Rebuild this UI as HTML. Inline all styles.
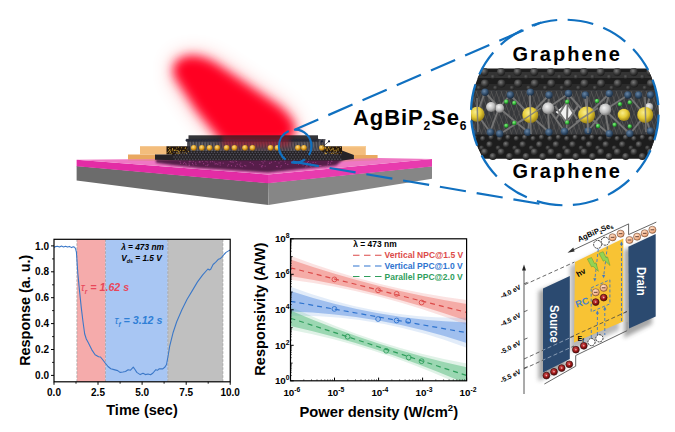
<!DOCTYPE html>
<html><head><meta charset="utf-8"><title>Graphene / AgBiP2Se6 / Graphene photodetector</title>
<style>
html,body{margin:0;padding:0;background:#fff;overflow:hidden}
svg{display:block}
text{font-family:"Liberation Sans",sans-serif;font-weight:bold;fill:#000}
</style></head><body>
<svg width="675" height="432" viewBox="0 0 675 432">
<defs>
<filter id="blur5" x="-30%" y="-30%" width="160%" height="160%"><feGaussianBlur stdDeviation="5.4"/></filter>
<filter id="blur10" x="-40%" y="-40%" width="180%" height="180%"><feGaussianBlur stdDeviation="11"/></filter>
<filter id="blur2" x="-30%" y="-30%" width="160%" height="160%"><feGaussianBlur stdDeviation="2"/></filter>
<filter id="blur1" x="-30%" y="-30%" width="160%" height="160%"><feGaussianBlur stdDeviation="0.8"/></filter>
<filter id="shadow" x="-40%" y="-20%" width="180%" height="150%"><feGaussianBlur stdDeviation="2.2"/></filter>
<radialGradient id="gC" cx="40%" cy="35%" r="65%"><stop offset="0" stop-color="#7a7a7a"/><stop offset="0.6" stop-color="#3a3a3a"/><stop offset="1" stop-color="#1a1a1a"/></radialGradient>
<radialGradient id="gY" cx="40%" cy="35%" r="65%"><stop offset="0" stop-color="#f8ec8c"/><stop offset="0.55" stop-color="#e6cc36"/><stop offset="1" stop-color="#9c8214"/></radialGradient>
<radialGradient id="gS" cx="40%" cy="35%" r="65%"><stop offset="0" stop-color="#f4f4f4"/><stop offset="0.6" stop-color="#bdbdbd"/><stop offset="1" stop-color="#777"/></radialGradient>
<radialGradient id="gB" cx="40%" cy="35%" r="65%"><stop offset="0" stop-color="#6a88a8"/><stop offset="0.6" stop-color="#34506e"/><stop offset="1" stop-color="#1a2c40"/></radialGradient>
<radialGradient id="gG" cx="40%" cy="35%" r="65%"><stop offset="0" stop-color="#8df08a"/><stop offset="0.6" stop-color="#35b83a"/><stop offset="1" stop-color="#1a7020"/></radialGradient>
<radialGradient id="gAu" cx="40%" cy="35%" r="65%"><stop offset="0" stop-color="#ffe08a"/><stop offset="0.6" stop-color="#e0a020"/><stop offset="1" stop-color="#8a5a08"/></radialGradient>
<radialGradient id="gH" cx="40%" cy="35%" r="65%"><stop offset="0" stop-color="#d05050"/><stop offset="0.6" stop-color="#a01818"/><stop offset="1" stop-color="#600808"/></radialGradient>
<radialGradient id="gE" cx="40%" cy="35%" r="65%"><stop offset="0" stop-color="#ffe0c8"/><stop offset="0.7" stop-color="#f4b48c"/><stop offset="1" stop-color="#d08858"/></radialGradient>
<clipPath id="circ"><ellipse cx="564.8" cy="112.5" rx="93.8" ry="92.8"/></clipPath>
<clipPath id="p1"><rect x="54" y="239" width="176.2" height="143"/></clipPath>
<clipPath id="p2"><rect x="290.5" y="239" width="176" height="142"/></clipPath>
</defs>
<rect width="675" height="432" fill="#fff"/>

<g id="device">
<path d="M192.5,56 C201,57 208.5,59.5 214.8,63.2 L278.6,106.3 C286,112.3 293,120 295,127.5 C296,134 290,140 283,143 L223.5,143 L197,110.6 L176,78.6 C170,67.5 175,57 192.5,56 Z" fill="#ff0020" filter="url(#blur10)" opacity="0.4"/>
<path d="M192.5,56 C201,57 208.5,59.5 214.8,63.2 L278.6,106.3 C286,112.3 293,120 295,127.5 C296,134 290,140 283,143 L223.5,143 L197,110.6 L176,78.6 C170,67.5 175,57 192.5,56 Z" fill="#ff0020" filter="url(#blur5)"/>
<polygon points="76.6,166 268,183 268.5,205 76.6,180.4" fill="#6c6c6c"/>
<polygon points="268,183 432,166.3 432,178.7 268.5,205" fill="#868686"/>
<polygon points="76.6,159.7 268,174.5 268,183.2 76.6,166.3" fill="#e32ca5"/>
<polygon points="268,174.5 432,159 432,166.5 268,183.2" fill="#e83bae"/>
<polygon points="76.6,159.7 128,159.3 170,159 342,158 378,158 432,159 268,174.5" fill="#ef78c4"/>
<polygon points="128,154.5 156,154.5 156,159.6 128,159.4" fill="#e9a860"/>
<polygon points="140,146.2 167,146.2 167,154.6 140,154.6" fill="#f3bd7c"/>
<polygon points="128,159.4 156,159.6 172,160 172,161.5 128,160.6" fill="#e77fa0"/>
<polygon points="342,146 365.8,146 365.8,155 342,155" fill="#f3bd7c"/>
<polygon points="353.9,154.9 377.6,154.9 377.6,158.6 353.9,159" fill="#e9a860"/>
<polygon points="342,146 365.8,146 365.8,147.2 342,147.2" fill="#f8cf98"/>
<polygon points="340,159 377.6,158.6 377.6,160.2 340,161.8" fill="#e77fa0"/>
<polygon points="156,159.3 345,158 336,165.5 268,172.5 200,168 172,165 156,162.8" fill="#4c123f" opacity="0.92" filter="url(#blur1)"/>
<circle cx="230.2" cy="161.5" r="0.6" fill="#b04a98" opacity="0.7"/>
<circle cx="280.9" cy="161.0" r="0.6" fill="#b04a98" opacity="0.7"/>
<circle cx="263.1" cy="162.9" r="0.6" fill="#b04a98" opacity="0.7"/>
<circle cx="189.0" cy="163.8" r="0.6" fill="#b04a98" opacity="0.7"/>
<circle cx="185.8" cy="163.3" r="0.6" fill="#b04a98" opacity="0.7"/>
<circle cx="190.8" cy="161.1" r="0.6" fill="#b04a98" opacity="0.7"/>
<circle cx="245.8" cy="165.9" r="0.6" fill="#b04a98" opacity="0.7"/>
<circle cx="199.2" cy="162.0" r="0.6" fill="#b04a98" opacity="0.7"/>
<circle cx="277.3" cy="166.7" r="0.6" fill="#b04a98" opacity="0.7"/>
<circle cx="269.5" cy="163.1" r="0.6" fill="#b04a98" opacity="0.7"/>
<circle cx="331.3" cy="160.8" r="0.6" fill="#b04a98" opacity="0.7"/>
<circle cx="313.1" cy="162.4" r="0.6" fill="#b04a98" opacity="0.7"/>
<circle cx="202.4" cy="161.3" r="0.6" fill="#b04a98" opacity="0.7"/>
<circle cx="227.8" cy="165.8" r="0.6" fill="#b04a98" opacity="0.7"/>
<circle cx="208.0" cy="164.3" r="0.6" fill="#b04a98" opacity="0.7"/>
<circle cx="279.0" cy="162.9" r="0.6" fill="#b04a98" opacity="0.7"/>
<circle cx="264.9" cy="160.9" r="0.6" fill="#b04a98" opacity="0.7"/>
<circle cx="189.2" cy="161.8" r="0.6" fill="#b04a98" opacity="0.7"/>
<circle cx="285.5" cy="163.3" r="0.6" fill="#b04a98" opacity="0.7"/>
<circle cx="228.7" cy="164.3" r="0.6" fill="#b04a98" opacity="0.7"/>
<circle cx="250.2" cy="162.4" r="0.6" fill="#b04a98" opacity="0.7"/>
<circle cx="303.1" cy="165.0" r="0.6" fill="#b04a98" opacity="0.7"/>
<circle cx="217.8" cy="164.2" r="0.6" fill="#b04a98" opacity="0.7"/>
<circle cx="261.4" cy="166.2" r="0.6" fill="#b04a98" opacity="0.7"/>
<circle cx="293.1" cy="162.4" r="0.6" fill="#b04a98" opacity="0.7"/>
<circle cx="331.9" cy="161.3" r="0.6" fill="#b04a98" opacity="0.7"/>
<circle cx="244.8" cy="165.4" r="0.6" fill="#b04a98" opacity="0.7"/>
<circle cx="203.6" cy="163.7" r="0.6" fill="#b04a98" opacity="0.7"/>
<circle cx="186.1" cy="164.8" r="0.6" fill="#b04a98" opacity="0.7"/>
<circle cx="298.5" cy="164.2" r="0.6" fill="#b04a98" opacity="0.7"/>
<circle cx="315.7" cy="162.5" r="0.6" fill="#b04a98" opacity="0.7"/>
<circle cx="287.8" cy="164.4" r="0.6" fill="#b04a98" opacity="0.7"/>
<circle cx="269.9" cy="163.5" r="0.6" fill="#b04a98" opacity="0.7"/>
<circle cx="310.2" cy="166.6" r="0.6" fill="#b04a98" opacity="0.7"/>
<circle cx="253.5" cy="164.8" r="0.6" fill="#b04a98" opacity="0.7"/>
<circle cx="189.4" cy="165.1" r="0.6" fill="#b04a98" opacity="0.7"/>
<circle cx="280.3" cy="167.0" r="0.6" fill="#b04a98" opacity="0.7"/>
<circle cx="307.4" cy="162.3" r="0.6" fill="#b04a98" opacity="0.7"/>
<circle cx="239.8" cy="164.8" r="0.6" fill="#b04a98" opacity="0.7"/>
<circle cx="183.5" cy="163.5" r="0.6" fill="#b04a98" opacity="0.7"/>
<circle cx="206.0" cy="161.3" r="0.6" fill="#b04a98" opacity="0.7"/>
<circle cx="189.1" cy="165.5" r="0.6" fill="#b04a98" opacity="0.7"/>
<circle cx="200.0" cy="162.1" r="0.6" fill="#b04a98" opacity="0.7"/>
<circle cx="240.6" cy="166.2" r="0.6" fill="#b04a98" opacity="0.7"/>
<circle cx="192.5" cy="163.4" r="0.6" fill="#b04a98" opacity="0.7"/>
<circle cx="265.2" cy="166.2" r="0.6" fill="#b04a98" opacity="0.7"/>
<circle cx="307.0" cy="166.1" r="0.6" fill="#b04a98" opacity="0.7"/>
<circle cx="223.2" cy="163.2" r="0.6" fill="#b04a98" opacity="0.7"/>
<circle cx="235.6" cy="166.2" r="0.6" fill="#b04a98" opacity="0.7"/>
<circle cx="328.4" cy="161.5" r="0.6" fill="#b04a98" opacity="0.7"/>
<circle cx="207.3" cy="162.0" r="0.6" fill="#b04a98" opacity="0.7"/>
<circle cx="216.2" cy="163.7" r="0.6" fill="#b04a98" opacity="0.7"/>
<circle cx="271.3" cy="162.2" r="0.6" fill="#b04a98" opacity="0.7"/>
<circle cx="180.6" cy="163.2" r="0.6" fill="#b04a98" opacity="0.7"/>
<circle cx="237.2" cy="164.2" r="0.6" fill="#b04a98" opacity="0.7"/>
<circle cx="327.7" cy="165.0" r="0.6" fill="#b04a98" opacity="0.7"/>
<circle cx="259.9" cy="164.5" r="0.6" fill="#b04a98" opacity="0.7"/>
<circle cx="284.8" cy="160.9" r="0.6" fill="#b04a98" opacity="0.7"/>
<circle cx="319.4" cy="165.6" r="0.6" fill="#b04a98" opacity="0.7"/>
<circle cx="315.5" cy="165.7" r="0.6" fill="#b04a98" opacity="0.7"/>
<circle cx="240.8" cy="163.1" r="0.6" fill="#b04a98" opacity="0.7"/>
<circle cx="196.0" cy="164.6" r="0.6" fill="#b04a98" opacity="0.7"/>
<circle cx="189.6" cy="160.9" r="0.6" fill="#b04a98" opacity="0.7"/>
<circle cx="212.4" cy="161.6" r="0.6" fill="#b04a98" opacity="0.7"/>
<circle cx="232.7" cy="160.8" r="0.6" fill="#b04a98" opacity="0.7"/>
<circle cx="180.0" cy="161.5" r="0.6" fill="#b04a98" opacity="0.7"/>
<circle cx="195.7" cy="162.9" r="0.6" fill="#b04a98" opacity="0.7"/>
<circle cx="184.0" cy="166.2" r="0.6" fill="#b04a98" opacity="0.7"/>
<circle cx="275.2" cy="161.5" r="0.6" fill="#b04a98" opacity="0.7"/>
<circle cx="219.1" cy="162.8" r="0.6" fill="#b04a98" opacity="0.7"/>
<circle cx="236.4" cy="161.3" r="0.6" fill="#b04a98" opacity="0.7"/>
<circle cx="311.6" cy="167.0" r="0.6" fill="#b04a98" opacity="0.7"/>
<circle cx="252.2" cy="163.6" r="0.6" fill="#b04a98" opacity="0.7"/>
<circle cx="193.3" cy="161.2" r="0.6" fill="#b04a98" opacity="0.7"/>
<circle cx="233.1" cy="162.2" r="0.6" fill="#b04a98" opacity="0.7"/>
<circle cx="308.5" cy="161.5" r="0.6" fill="#b04a98" opacity="0.7"/>
<circle cx="183.6" cy="166.7" r="0.6" fill="#b04a98" opacity="0.7"/>
<circle cx="261.9" cy="161.5" r="0.6" fill="#b04a98" opacity="0.7"/>
<circle cx="264.2" cy="160.7" r="0.6" fill="#b04a98" opacity="0.7"/>
<circle cx="261.9" cy="166.9" r="0.6" fill="#b04a98" opacity="0.7"/>
<circle cx="313.8" cy="165.0" r="0.6" fill="#b04a98" opacity="0.7"/>
<circle cx="220.5" cy="162.9" r="0.6" fill="#b04a98" opacity="0.7"/>
<circle cx="205.9" cy="165.5" r="0.6" fill="#b04a98" opacity="0.7"/>
<circle cx="262.6" cy="165.6" r="0.6" fill="#b04a98" opacity="0.7"/>
<circle cx="231.1" cy="161.9" r="0.6" fill="#b04a98" opacity="0.7"/>
<circle cx="305.8" cy="166.9" r="0.6" fill="#b04a98" opacity="0.7"/>
<circle cx="312.2" cy="165.7" r="0.6" fill="#b04a98" opacity="0.7"/>
<circle cx="306.8" cy="165.3" r="0.6" fill="#b04a98" opacity="0.7"/>
<circle cx="215.1" cy="163.9" r="0.6" fill="#b04a98" opacity="0.7"/>
<circle cx="235.1" cy="160.7" r="0.6" fill="#b04a98" opacity="0.7"/>
<circle cx="184.3" cy="162.3" r="0.6" fill="#b04a98" opacity="0.7"/>
<circle cx="220.2" cy="165.0" r="0.6" fill="#b04a98" opacity="0.7"/>
<circle cx="328.3" cy="163.4" r="0.6" fill="#b04a98" opacity="0.7"/>
<circle cx="325.2" cy="166.9" r="0.6" fill="#b04a98" opacity="0.7"/>
<circle cx="328.0" cy="162.9" r="0.6" fill="#b04a98" opacity="0.7"/>
<circle cx="214.2" cy="162.0" r="0.6" fill="#b04a98" opacity="0.7"/>
<circle cx="210.5" cy="161.8" r="0.6" fill="#b04a98" opacity="0.7"/>
<circle cx="276.7" cy="166.4" r="0.6" fill="#b04a98" opacity="0.7"/>
<circle cx="310.3" cy="163.6" r="0.6" fill="#b04a98" opacity="0.7"/>
<circle cx="281.2" cy="165.7" r="0.6" fill="#b04a98" opacity="0.7"/>
<circle cx="193.1" cy="164.8" r="0.6" fill="#b04a98" opacity="0.7"/>
<circle cx="321.0" cy="165.6" r="0.6" fill="#b04a98" opacity="0.7"/>
<circle cx="296.3" cy="163.6" r="0.6" fill="#b04a98" opacity="0.7"/>
<circle cx="207.7" cy="165.6" r="0.6" fill="#b04a98" opacity="0.7"/>
<circle cx="231.5" cy="165.7" r="0.6" fill="#b04a98" opacity="0.7"/>
<circle cx="330.6" cy="163.1" r="0.6" fill="#b04a98" opacity="0.7"/>
<circle cx="242.2" cy="166.7" r="0.6" fill="#b04a98" opacity="0.7"/>
<circle cx="292.3" cy="161.6" r="0.6" fill="#b04a98" opacity="0.7"/>
<circle cx="199.7" cy="161.5" r="0.6" fill="#b04a98" opacity="0.7"/>
<circle cx="320.3" cy="165.7" r="0.6" fill="#b04a98" opacity="0.7"/>
<polygon points="155,154.6 172,154.6 172,150.5 342,150.5 353.9,154.9 353.9,159 342,160.4 190,160.6 155,159.8" fill="#262327"/>
<polygon points="166.5,146.2 190,146.2 190,152 172,154.6 166.5,154.6" fill="#231509"/>
<polygon points="322,146.2 342,146.2 342,155 322,152" fill="#231509"/>
<circle cx="170.2" cy="152.3" r="0.5" fill="#d8a838"/>
<circle cx="188.6" cy="151.2" r="0.5" fill="#d8a838"/>
<circle cx="174.7" cy="150.5" r="0.5" fill="#d8a838"/>
<circle cx="169.9" cy="146.9" r="0.5" fill="#d8a838"/>
<circle cx="188.4" cy="151.2" r="0.5" fill="#d8a838"/>
<circle cx="178.6" cy="153.1" r="0.5" fill="#d8a838"/>
<circle cx="176.5" cy="152.6" r="0.5" fill="#d8a838"/>
<circle cx="185.2" cy="148.2" r="0.5" fill="#d8a838"/>
<circle cx="172.5" cy="148.8" r="0.5" fill="#d8a838"/>
<circle cx="172.3" cy="150.7" r="0.5" fill="#d8a838"/>
<circle cx="172.7" cy="149.6" r="0.5" fill="#d8a838"/>
<circle cx="169.9" cy="152.9" r="0.5" fill="#d8a838"/>
<circle cx="174.8" cy="149.9" r="0.5" fill="#d8a838"/>
<circle cx="179.8" cy="152.9" r="0.5" fill="#d8a838"/>
<circle cx="176.3" cy="152.9" r="0.5" fill="#d8a838"/>
<circle cx="178.0" cy="150.4" r="0.5" fill="#d8a838"/>
<circle cx="178.5" cy="146.9" r="0.5" fill="#d8a838"/>
<circle cx="176.7" cy="148.0" r="0.5" fill="#d8a838"/>
<circle cx="167.1" cy="152.2" r="0.5" fill="#d8a838"/>
<circle cx="170.8" cy="150.0" r="0.5" fill="#d8a838"/>
<circle cx="183.0" cy="150.5" r="0.5" fill="#d8a838"/>
<circle cx="174.2" cy="150.3" r="0.5" fill="#d8a838"/>
<circle cx="179.2" cy="152.1" r="0.5" fill="#d8a838"/>
<circle cx="169.3" cy="150.6" r="0.5" fill="#d8a838"/>
<circle cx="172.5" cy="148.7" r="0.5" fill="#d8a838"/>
<circle cx="184.0" cy="150.2" r="0.5" fill="#d8a838"/>
<circle cx="179.4" cy="151.9" r="0.5" fill="#d8a838"/>
<circle cx="187.1" cy="149.8" r="0.5" fill="#d8a838"/>
<circle cx="180.5" cy="150.2" r="0.5" fill="#d8a838"/>
<circle cx="178.3" cy="151.4" r="0.5" fill="#d8a838"/>
<circle cx="177.0" cy="150.4" r="0.5" fill="#d8a838"/>
<circle cx="177.5" cy="153.1" r="0.5" fill="#d8a838"/>
<circle cx="182.4" cy="152.7" r="0.5" fill="#d8a838"/>
<circle cx="187.7" cy="148.5" r="0.5" fill="#d8a838"/>
<circle cx="179.3" cy="153.1" r="0.5" fill="#d8a838"/>
<circle cx="185.5" cy="147.7" r="0.5" fill="#d8a838"/>
<circle cx="169.7" cy="149.8" r="0.5" fill="#d8a838"/>
<circle cx="168.6" cy="148.4" r="0.5" fill="#d8a838"/>
<circle cx="168.6" cy="151.3" r="0.5" fill="#d8a838"/>
<circle cx="184.2" cy="152.8" r="0.5" fill="#d8a838"/>
<circle cx="170.4" cy="151.6" r="0.5" fill="#d8a838"/>
<circle cx="181.5" cy="147.8" r="0.5" fill="#d8a838"/>
<circle cx="186.4" cy="153.3" r="0.5" fill="#d8a838"/>
<circle cx="171.8" cy="153.2" r="0.5" fill="#d8a838"/>
<circle cx="175.8" cy="150.1" r="0.5" fill="#d8a838"/>
<circle cx="341.3" cy="152.8" r="0.5" fill="#d8a838"/>
<circle cx="326.8" cy="149.9" r="0.5" fill="#d8a838"/>
<circle cx="333.0" cy="149.2" r="0.5" fill="#d8a838"/>
<circle cx="327.4" cy="149.1" r="0.5" fill="#d8a838"/>
<circle cx="336.6" cy="146.9" r="0.5" fill="#d8a838"/>
<circle cx="333.7" cy="150.0" r="0.5" fill="#d8a838"/>
<circle cx="324.3" cy="149.2" r="0.5" fill="#d8a838"/>
<circle cx="334.9" cy="150.5" r="0.5" fill="#d8a838"/>
<circle cx="325.1" cy="153.9" r="0.5" fill="#d8a838"/>
<circle cx="337.8" cy="153.8" r="0.5" fill="#d8a838"/>
<circle cx="325.8" cy="148.7" r="0.5" fill="#d8a838"/>
<circle cx="324.7" cy="152.4" r="0.5" fill="#d8a838"/>
<circle cx="328.7" cy="147.7" r="0.5" fill="#d8a838"/>
<circle cx="331.4" cy="153.4" r="0.5" fill="#d8a838"/>
<circle cx="338.3" cy="148.7" r="0.5" fill="#d8a838"/>
<circle cx="326.6" cy="153.4" r="0.5" fill="#d8a838"/>
<circle cx="334.0" cy="151.8" r="0.5" fill="#d8a838"/>
<circle cx="325.6" cy="147.2" r="0.5" fill="#d8a838"/>
<circle cx="336.0" cy="149.9" r="0.5" fill="#d8a838"/>
<circle cx="325.3" cy="153.6" r="0.5" fill="#d8a838"/>
<circle cx="335.1" cy="152.6" r="0.5" fill="#d8a838"/>
<circle cx="325.5" cy="153.0" r="0.5" fill="#d8a838"/>
<circle cx="325.2" cy="153.0" r="0.5" fill="#d8a838"/>
<circle cx="331.9" cy="149.2" r="0.5" fill="#d8a838"/>
<circle cx="333.7" cy="153.5" r="0.5" fill="#d8a838"/>
<circle cx="328.7" cy="147.7" r="0.5" fill="#d8a838"/>
<circle cx="333.2" cy="148.5" r="0.5" fill="#d8a838"/>
<circle cx="325.9" cy="148.0" r="0.5" fill="#d8a838"/>
<circle cx="324.9" cy="148.3" r="0.5" fill="#d8a838"/>
<circle cx="329.5" cy="149.0" r="0.5" fill="#d8a838"/>
<circle cx="337.3" cy="148.9" r="0.5" fill="#d8a838"/>
<circle cx="332.8" cy="148.1" r="0.5" fill="#d8a838"/>
<circle cx="330.1" cy="146.9" r="0.5" fill="#d8a838"/>
<circle cx="328.4" cy="146.9" r="0.5" fill="#d8a838"/>
<circle cx="336.8" cy="150.8" r="0.5" fill="#d8a838"/>
<circle cx="327.3" cy="150.2" r="0.5" fill="#d8a838"/>
<circle cx="340.4" cy="147.6" r="0.5" fill="#d8a838"/>
<circle cx="338.3" cy="149.9" r="0.5" fill="#d8a838"/>
<circle cx="332.7" cy="152.8" r="0.5" fill="#d8a838"/>
<circle cx="330.9" cy="150.4" r="0.5" fill="#d8a838"/>
<circle cx="336.0" cy="153.9" r="0.5" fill="#d8a838"/>
<circle cx="330.0" cy="152.8" r="0.5" fill="#d8a838"/>
<circle cx="336.4" cy="151.4" r="0.5" fill="#d8a838"/>
<circle cx="331.1" cy="149.3" r="0.5" fill="#d8a838"/>
<circle cx="325.0" cy="147.7" r="0.5" fill="#d8a838"/>
<circle cx="174.0" cy="152.2" r="0.8" fill="#55535e"/>
<circle cx="176.9" cy="152.2" r="0.8" fill="#55535e"/>
<circle cx="179.8" cy="152.2" r="0.8" fill="#55535e"/>
<circle cx="182.7" cy="152.2" r="0.8" fill="#55535e"/>
<circle cx="185.6" cy="152.2" r="0.8" fill="#55535e"/>
<circle cx="188.5" cy="152.2" r="0.8" fill="#55535e"/>
<circle cx="191.4" cy="152.2" r="0.8" fill="#55535e"/>
<circle cx="194.3" cy="152.2" r="0.8" fill="#55535e"/>
<circle cx="197.2" cy="152.2" r="0.8" fill="#55535e"/>
<circle cx="200.1" cy="152.2" r="0.8" fill="#55535e"/>
<circle cx="203.0" cy="152.2" r="0.8" fill="#55535e"/>
<circle cx="205.9" cy="152.2" r="0.8" fill="#55535e"/>
<circle cx="208.8" cy="152.2" r="0.8" fill="#55535e"/>
<circle cx="211.7" cy="152.2" r="0.8" fill="#55535e"/>
<circle cx="214.6" cy="152.2" r="0.8" fill="#55535e"/>
<circle cx="217.5" cy="152.2" r="0.8" fill="#55535e"/>
<circle cx="220.4" cy="152.2" r="0.8" fill="#55535e"/>
<circle cx="223.3" cy="152.2" r="0.8" fill="#55535e"/>
<circle cx="226.2" cy="152.2" r="0.8" fill="#55535e"/>
<circle cx="229.1" cy="152.2" r="0.8" fill="#55535e"/>
<circle cx="232.0" cy="152.2" r="0.8" fill="#55535e"/>
<circle cx="234.9" cy="152.2" r="0.8" fill="#55535e"/>
<circle cx="237.8" cy="152.2" r="0.8" fill="#55535e"/>
<circle cx="240.7" cy="152.2" r="0.8" fill="#55535e"/>
<circle cx="243.6" cy="152.2" r="0.8" fill="#55535e"/>
<circle cx="246.5" cy="152.2" r="0.8" fill="#55535e"/>
<circle cx="249.4" cy="152.2" r="0.8" fill="#55535e"/>
<circle cx="252.3" cy="152.2" r="0.8" fill="#55535e"/>
<circle cx="255.2" cy="152.2" r="0.8" fill="#55535e"/>
<circle cx="258.1" cy="152.2" r="0.8" fill="#55535e"/>
<circle cx="261.0" cy="152.2" r="0.8" fill="#55535e"/>
<circle cx="263.9" cy="152.2" r="0.8" fill="#55535e"/>
<circle cx="266.8" cy="152.2" r="0.8" fill="#55535e"/>
<circle cx="269.7" cy="152.2" r="0.8" fill="#55535e"/>
<circle cx="272.6" cy="152.2" r="0.8" fill="#55535e"/>
<circle cx="275.5" cy="152.2" r="0.8" fill="#55535e"/>
<circle cx="278.4" cy="152.2" r="0.8" fill="#55535e"/>
<circle cx="281.3" cy="152.2" r="0.8" fill="#55535e"/>
<circle cx="284.2" cy="152.2" r="0.8" fill="#55535e"/>
<circle cx="287.1" cy="152.2" r="0.8" fill="#55535e"/>
<circle cx="290.0" cy="152.2" r="0.8" fill="#55535e"/>
<circle cx="292.9" cy="152.2" r="0.8" fill="#55535e"/>
<circle cx="295.8" cy="152.2" r="0.8" fill="#55535e"/>
<circle cx="298.7" cy="152.2" r="0.8" fill="#55535e"/>
<circle cx="301.6" cy="152.2" r="0.8" fill="#55535e"/>
<circle cx="304.5" cy="152.2" r="0.8" fill="#55535e"/>
<circle cx="307.4" cy="152.2" r="0.8" fill="#55535e"/>
<circle cx="310.3" cy="152.2" r="0.8" fill="#55535e"/>
<circle cx="313.2" cy="152.2" r="0.8" fill="#55535e"/>
<circle cx="316.1" cy="152.2" r="0.8" fill="#55535e"/>
<circle cx="319.0" cy="152.2" r="0.8" fill="#55535e"/>
<circle cx="321.9" cy="152.2" r="0.8" fill="#55535e"/>
<circle cx="324.8" cy="152.2" r="0.8" fill="#55535e"/>
<circle cx="327.7" cy="152.2" r="0.8" fill="#55535e"/>
<circle cx="330.6" cy="152.2" r="0.8" fill="#55535e"/>
<circle cx="333.5" cy="152.2" r="0.8" fill="#55535e"/>
<circle cx="336.4" cy="152.2" r="0.8" fill="#55535e"/>
<circle cx="339.3" cy="152.2" r="0.8" fill="#55535e"/>
<circle cx="175.4" cy="154.6" r="0.8" fill="#55535e"/>
<circle cx="178.3" cy="154.6" r="0.8" fill="#55535e"/>
<circle cx="181.2" cy="154.6" r="0.8" fill="#55535e"/>
<circle cx="184.1" cy="154.6" r="0.8" fill="#55535e"/>
<circle cx="187.0" cy="154.6" r="0.8" fill="#55535e"/>
<circle cx="189.9" cy="154.6" r="0.8" fill="#55535e"/>
<circle cx="192.8" cy="154.6" r="0.8" fill="#55535e"/>
<circle cx="195.7" cy="154.6" r="0.8" fill="#55535e"/>
<circle cx="198.6" cy="154.6" r="0.8" fill="#55535e"/>
<circle cx="201.5" cy="154.6" r="0.8" fill="#55535e"/>
<circle cx="204.4" cy="154.6" r="0.8" fill="#55535e"/>
<circle cx="207.3" cy="154.6" r="0.8" fill="#55535e"/>
<circle cx="210.2" cy="154.6" r="0.8" fill="#55535e"/>
<circle cx="213.1" cy="154.6" r="0.8" fill="#55535e"/>
<circle cx="216.0" cy="154.6" r="0.8" fill="#55535e"/>
<circle cx="218.9" cy="154.6" r="0.8" fill="#55535e"/>
<circle cx="221.8" cy="154.6" r="0.8" fill="#55535e"/>
<circle cx="224.7" cy="154.6" r="0.8" fill="#55535e"/>
<circle cx="227.6" cy="154.6" r="0.8" fill="#55535e"/>
<circle cx="230.5" cy="154.6" r="0.8" fill="#55535e"/>
<circle cx="233.4" cy="154.6" r="0.8" fill="#55535e"/>
<circle cx="236.3" cy="154.6" r="0.8" fill="#55535e"/>
<circle cx="239.2" cy="154.6" r="0.8" fill="#55535e"/>
<circle cx="242.1" cy="154.6" r="0.8" fill="#55535e"/>
<circle cx="245.0" cy="154.6" r="0.8" fill="#55535e"/>
<circle cx="247.9" cy="154.6" r="0.8" fill="#55535e"/>
<circle cx="250.8" cy="154.6" r="0.8" fill="#55535e"/>
<circle cx="253.7" cy="154.6" r="0.8" fill="#55535e"/>
<circle cx="256.6" cy="154.6" r="0.8" fill="#55535e"/>
<circle cx="259.5" cy="154.6" r="0.8" fill="#55535e"/>
<circle cx="262.4" cy="154.6" r="0.8" fill="#55535e"/>
<circle cx="265.3" cy="154.6" r="0.8" fill="#55535e"/>
<circle cx="268.2" cy="154.6" r="0.8" fill="#55535e"/>
<circle cx="271.1" cy="154.6" r="0.8" fill="#55535e"/>
<circle cx="274.0" cy="154.6" r="0.8" fill="#55535e"/>
<circle cx="276.9" cy="154.6" r="0.8" fill="#55535e"/>
<circle cx="279.8" cy="154.6" r="0.8" fill="#55535e"/>
<circle cx="282.7" cy="154.6" r="0.8" fill="#55535e"/>
<circle cx="285.6" cy="154.6" r="0.8" fill="#55535e"/>
<circle cx="288.5" cy="154.6" r="0.8" fill="#55535e"/>
<circle cx="291.4" cy="154.6" r="0.8" fill="#55535e"/>
<circle cx="294.3" cy="154.6" r="0.8" fill="#55535e"/>
<circle cx="297.2" cy="154.6" r="0.8" fill="#55535e"/>
<circle cx="300.1" cy="154.6" r="0.8" fill="#55535e"/>
<circle cx="303.0" cy="154.6" r="0.8" fill="#55535e"/>
<circle cx="305.9" cy="154.6" r="0.8" fill="#55535e"/>
<circle cx="308.8" cy="154.6" r="0.8" fill="#55535e"/>
<circle cx="311.7" cy="154.6" r="0.8" fill="#55535e"/>
<circle cx="314.6" cy="154.6" r="0.8" fill="#55535e"/>
<circle cx="317.5" cy="154.6" r="0.8" fill="#55535e"/>
<circle cx="320.4" cy="154.6" r="0.8" fill="#55535e"/>
<circle cx="323.3" cy="154.6" r="0.8" fill="#55535e"/>
<circle cx="326.2" cy="154.6" r="0.8" fill="#55535e"/>
<circle cx="329.1" cy="154.6" r="0.8" fill="#55535e"/>
<circle cx="332.0" cy="154.6" r="0.8" fill="#55535e"/>
<circle cx="334.9" cy="154.6" r="0.8" fill="#55535e"/>
<circle cx="337.8" cy="154.6" r="0.8" fill="#55535e"/>
<circle cx="340.7" cy="154.6" r="0.8" fill="#55535e"/>
<circle cx="174.0" cy="157" r="0.8" fill="#55535e"/>
<circle cx="176.9" cy="157" r="0.8" fill="#55535e"/>
<circle cx="179.8" cy="157" r="0.8" fill="#55535e"/>
<circle cx="182.7" cy="157" r="0.8" fill="#55535e"/>
<circle cx="185.6" cy="157" r="0.8" fill="#55535e"/>
<circle cx="188.5" cy="157" r="0.8" fill="#55535e"/>
<circle cx="191.4" cy="157" r="0.8" fill="#55535e"/>
<circle cx="194.3" cy="157" r="0.8" fill="#55535e"/>
<circle cx="197.2" cy="157" r="0.8" fill="#55535e"/>
<circle cx="200.1" cy="157" r="0.8" fill="#55535e"/>
<circle cx="203.0" cy="157" r="0.8" fill="#55535e"/>
<circle cx="205.9" cy="157" r="0.8" fill="#55535e"/>
<circle cx="208.8" cy="157" r="0.8" fill="#55535e"/>
<circle cx="211.7" cy="157" r="0.8" fill="#55535e"/>
<circle cx="214.6" cy="157" r="0.8" fill="#55535e"/>
<circle cx="217.5" cy="157" r="0.8" fill="#55535e"/>
<circle cx="220.4" cy="157" r="0.8" fill="#55535e"/>
<circle cx="223.3" cy="157" r="0.8" fill="#55535e"/>
<circle cx="226.2" cy="157" r="0.8" fill="#55535e"/>
<circle cx="229.1" cy="157" r="0.8" fill="#55535e"/>
<circle cx="232.0" cy="157" r="0.8" fill="#55535e"/>
<circle cx="234.9" cy="157" r="0.8" fill="#55535e"/>
<circle cx="237.8" cy="157" r="0.8" fill="#55535e"/>
<circle cx="240.7" cy="157" r="0.8" fill="#55535e"/>
<circle cx="243.6" cy="157" r="0.8" fill="#55535e"/>
<circle cx="246.5" cy="157" r="0.8" fill="#55535e"/>
<circle cx="249.4" cy="157" r="0.8" fill="#55535e"/>
<circle cx="252.3" cy="157" r="0.8" fill="#55535e"/>
<circle cx="255.2" cy="157" r="0.8" fill="#55535e"/>
<circle cx="258.1" cy="157" r="0.8" fill="#55535e"/>
<circle cx="261.0" cy="157" r="0.8" fill="#55535e"/>
<circle cx="263.9" cy="157" r="0.8" fill="#55535e"/>
<circle cx="266.8" cy="157" r="0.8" fill="#55535e"/>
<circle cx="269.7" cy="157" r="0.8" fill="#55535e"/>
<circle cx="272.6" cy="157" r="0.8" fill="#55535e"/>
<circle cx="275.5" cy="157" r="0.8" fill="#55535e"/>
<circle cx="278.4" cy="157" r="0.8" fill="#55535e"/>
<circle cx="281.3" cy="157" r="0.8" fill="#55535e"/>
<circle cx="284.2" cy="157" r="0.8" fill="#55535e"/>
<circle cx="287.1" cy="157" r="0.8" fill="#55535e"/>
<circle cx="290.0" cy="157" r="0.8" fill="#55535e"/>
<circle cx="292.9" cy="157" r="0.8" fill="#55535e"/>
<circle cx="295.8" cy="157" r="0.8" fill="#55535e"/>
<circle cx="298.7" cy="157" r="0.8" fill="#55535e"/>
<circle cx="301.6" cy="157" r="0.8" fill="#55535e"/>
<circle cx="304.5" cy="157" r="0.8" fill="#55535e"/>
<circle cx="307.4" cy="157" r="0.8" fill="#55535e"/>
<circle cx="310.3" cy="157" r="0.8" fill="#55535e"/>
<circle cx="313.2" cy="157" r="0.8" fill="#55535e"/>
<circle cx="316.1" cy="157" r="0.8" fill="#55535e"/>
<circle cx="319.0" cy="157" r="0.8" fill="#55535e"/>
<circle cx="321.9" cy="157" r="0.8" fill="#55535e"/>
<circle cx="324.8" cy="157" r="0.8" fill="#55535e"/>
<circle cx="327.7" cy="157" r="0.8" fill="#55535e"/>
<circle cx="330.6" cy="157" r="0.8" fill="#55535e"/>
<circle cx="333.5" cy="157" r="0.8" fill="#55535e"/>
<circle cx="336.4" cy="157" r="0.8" fill="#55535e"/>
<circle cx="339.3" cy="157" r="0.8" fill="#55535e"/>
<circle cx="175.4" cy="159.2" r="0.8" fill="#55535e"/>
<circle cx="178.3" cy="159.2" r="0.8" fill="#55535e"/>
<circle cx="181.2" cy="159.2" r="0.8" fill="#55535e"/>
<circle cx="184.1" cy="159.2" r="0.8" fill="#55535e"/>
<circle cx="187.0" cy="159.2" r="0.8" fill="#55535e"/>
<circle cx="189.9" cy="159.2" r="0.8" fill="#55535e"/>
<circle cx="192.8" cy="159.2" r="0.8" fill="#55535e"/>
<circle cx="195.7" cy="159.2" r="0.8" fill="#55535e"/>
<circle cx="198.6" cy="159.2" r="0.8" fill="#55535e"/>
<circle cx="201.5" cy="159.2" r="0.8" fill="#55535e"/>
<circle cx="204.4" cy="159.2" r="0.8" fill="#55535e"/>
<circle cx="207.3" cy="159.2" r="0.8" fill="#55535e"/>
<circle cx="210.2" cy="159.2" r="0.8" fill="#55535e"/>
<circle cx="213.1" cy="159.2" r="0.8" fill="#55535e"/>
<circle cx="216.0" cy="159.2" r="0.8" fill="#55535e"/>
<circle cx="218.9" cy="159.2" r="0.8" fill="#55535e"/>
<circle cx="221.8" cy="159.2" r="0.8" fill="#55535e"/>
<circle cx="224.7" cy="159.2" r="0.8" fill="#55535e"/>
<circle cx="227.6" cy="159.2" r="0.8" fill="#55535e"/>
<circle cx="230.5" cy="159.2" r="0.8" fill="#55535e"/>
<circle cx="233.4" cy="159.2" r="0.8" fill="#55535e"/>
<circle cx="236.3" cy="159.2" r="0.8" fill="#55535e"/>
<circle cx="239.2" cy="159.2" r="0.8" fill="#55535e"/>
<circle cx="242.1" cy="159.2" r="0.8" fill="#55535e"/>
<circle cx="245.0" cy="159.2" r="0.8" fill="#55535e"/>
<circle cx="247.9" cy="159.2" r="0.8" fill="#55535e"/>
<circle cx="250.8" cy="159.2" r="0.8" fill="#55535e"/>
<circle cx="253.7" cy="159.2" r="0.8" fill="#55535e"/>
<circle cx="256.6" cy="159.2" r="0.8" fill="#55535e"/>
<circle cx="259.5" cy="159.2" r="0.8" fill="#55535e"/>
<circle cx="262.4" cy="159.2" r="0.8" fill="#55535e"/>
<circle cx="265.3" cy="159.2" r="0.8" fill="#55535e"/>
<circle cx="268.2" cy="159.2" r="0.8" fill="#55535e"/>
<circle cx="271.1" cy="159.2" r="0.8" fill="#55535e"/>
<circle cx="274.0" cy="159.2" r="0.8" fill="#55535e"/>
<circle cx="276.9" cy="159.2" r="0.8" fill="#55535e"/>
<circle cx="279.8" cy="159.2" r="0.8" fill="#55535e"/>
<circle cx="282.7" cy="159.2" r="0.8" fill="#55535e"/>
<circle cx="285.6" cy="159.2" r="0.8" fill="#55535e"/>
<circle cx="288.5" cy="159.2" r="0.8" fill="#55535e"/>
<circle cx="291.4" cy="159.2" r="0.8" fill="#55535e"/>
<circle cx="294.3" cy="159.2" r="0.8" fill="#55535e"/>
<circle cx="297.2" cy="159.2" r="0.8" fill="#55535e"/>
<circle cx="300.1" cy="159.2" r="0.8" fill="#55535e"/>
<circle cx="303.0" cy="159.2" r="0.8" fill="#55535e"/>
<circle cx="305.9" cy="159.2" r="0.8" fill="#55535e"/>
<circle cx="308.8" cy="159.2" r="0.8" fill="#55535e"/>
<circle cx="311.7" cy="159.2" r="0.8" fill="#55535e"/>
<circle cx="314.6" cy="159.2" r="0.8" fill="#55535e"/>
<circle cx="317.5" cy="159.2" r="0.8" fill="#55535e"/>
<circle cx="320.4" cy="159.2" r="0.8" fill="#55535e"/>
<circle cx="323.3" cy="159.2" r="0.8" fill="#55535e"/>
<circle cx="326.2" cy="159.2" r="0.8" fill="#55535e"/>
<circle cx="329.1" cy="159.2" r="0.8" fill="#55535e"/>
<circle cx="332.0" cy="159.2" r="0.8" fill="#55535e"/>
<circle cx="334.9" cy="159.2" r="0.8" fill="#55535e"/>
<circle cx="337.8" cy="159.2" r="0.8" fill="#55535e"/>
<circle cx="340.7" cy="159.2" r="0.8" fill="#55535e"/>
<rect x="187" y="139" width="138" height="11.6" fill="#26242c" opacity="0.72"/>
<line x1="188.0" y1="139" x2="190.2" y2="151" stroke="#2c2c36" stroke-width="0.7"/>
<line x1="190.5" y1="139" x2="187.5" y2="151" stroke="#3a3a46" stroke-width="0.6"/>
<line x1="190.9" y1="139" x2="193.1" y2="151" stroke="#2c2c36" stroke-width="0.7"/>
<line x1="193.4" y1="139" x2="190.4" y2="151" stroke="#3a3a46" stroke-width="0.6"/>
<line x1="193.9" y1="139" x2="196.1" y2="151" stroke="#2c2c36" stroke-width="0.7"/>
<line x1="196.4" y1="139" x2="193.4" y2="151" stroke="#3a3a46" stroke-width="0.6"/>
<line x1="196.8" y1="139" x2="199.0" y2="151" stroke="#2c2c36" stroke-width="0.7"/>
<line x1="199.3" y1="139" x2="196.3" y2="151" stroke="#3a3a46" stroke-width="0.6"/>
<line x1="199.7" y1="139" x2="201.9" y2="151" stroke="#2c2c36" stroke-width="0.7"/>
<line x1="202.2" y1="139" x2="199.2" y2="151" stroke="#3a3a46" stroke-width="0.6"/>
<line x1="202.7" y1="139" x2="204.8" y2="151" stroke="#2c2c36" stroke-width="0.7"/>
<line x1="205.2" y1="139" x2="202.2" y2="151" stroke="#3a3a46" stroke-width="0.6"/>
<line x1="205.6" y1="139" x2="207.8" y2="151" stroke="#2c2c36" stroke-width="0.7"/>
<line x1="208.1" y1="139" x2="205.1" y2="151" stroke="#3a3a46" stroke-width="0.6"/>
<line x1="208.5" y1="139" x2="210.7" y2="151" stroke="#2c2c36" stroke-width="0.7"/>
<line x1="211.0" y1="139" x2="208.0" y2="151" stroke="#3a3a46" stroke-width="0.6"/>
<line x1="211.4" y1="139" x2="213.6" y2="151" stroke="#2c2c36" stroke-width="0.7"/>
<line x1="213.9" y1="139" x2="210.9" y2="151" stroke="#3a3a46" stroke-width="0.6"/>
<line x1="214.4" y1="139" x2="216.6" y2="151" stroke="#2c2c36" stroke-width="0.7"/>
<line x1="216.9" y1="139" x2="213.9" y2="151" stroke="#3a3a46" stroke-width="0.6"/>
<line x1="217.3" y1="139" x2="219.5" y2="151" stroke="#2c2c36" stroke-width="0.7"/>
<line x1="219.8" y1="139" x2="216.8" y2="151" stroke="#3a3a46" stroke-width="0.6"/>
<line x1="220.2" y1="139" x2="222.4" y2="151" stroke="#2c2c36" stroke-width="0.7"/>
<line x1="222.7" y1="139" x2="219.7" y2="151" stroke="#3a3a46" stroke-width="0.6"/>
<line x1="223.2" y1="139" x2="225.4" y2="151" stroke="#2c2c36" stroke-width="0.7"/>
<line x1="225.7" y1="139" x2="222.7" y2="151" stroke="#3a3a46" stroke-width="0.6"/>
<line x1="226.1" y1="139" x2="228.3" y2="151" stroke="#2c2c36" stroke-width="0.7"/>
<line x1="228.6" y1="139" x2="225.6" y2="151" stroke="#3a3a46" stroke-width="0.6"/>
<line x1="229.0" y1="139" x2="231.2" y2="151" stroke="#2c2c36" stroke-width="0.7"/>
<line x1="231.5" y1="139" x2="228.5" y2="151" stroke="#3a3a46" stroke-width="0.6"/>
<line x1="231.9" y1="139" x2="234.1" y2="151" stroke="#2c2c36" stroke-width="0.7"/>
<line x1="234.4" y1="139" x2="231.4" y2="151" stroke="#3a3a46" stroke-width="0.6"/>
<line x1="234.9" y1="139" x2="237.1" y2="151" stroke="#2c2c36" stroke-width="0.7"/>
<line x1="237.4" y1="139" x2="234.4" y2="151" stroke="#3a3a46" stroke-width="0.6"/>
<line x1="237.8" y1="139" x2="240.0" y2="151" stroke="#2c2c36" stroke-width="0.7"/>
<line x1="240.3" y1="139" x2="237.3" y2="151" stroke="#3a3a46" stroke-width="0.6"/>
<line x1="240.7" y1="139" x2="242.9" y2="151" stroke="#2c2c36" stroke-width="0.7"/>
<line x1="243.2" y1="139" x2="240.2" y2="151" stroke="#3a3a46" stroke-width="0.6"/>
<line x1="243.7" y1="139" x2="245.9" y2="151" stroke="#2c2c36" stroke-width="0.7"/>
<line x1="246.2" y1="139" x2="243.2" y2="151" stroke="#3a3a46" stroke-width="0.6"/>
<line x1="246.6" y1="139" x2="248.8" y2="151" stroke="#2c2c36" stroke-width="0.7"/>
<line x1="249.1" y1="139" x2="246.1" y2="151" stroke="#3a3a46" stroke-width="0.6"/>
<line x1="249.5" y1="139" x2="251.7" y2="151" stroke="#2c2c36" stroke-width="0.7"/>
<line x1="252.0" y1="139" x2="249.0" y2="151" stroke="#3a3a46" stroke-width="0.6"/>
<line x1="252.5" y1="139" x2="254.7" y2="151" stroke="#2c2c36" stroke-width="0.7"/>
<line x1="255.0" y1="139" x2="252.0" y2="151" stroke="#3a3a46" stroke-width="0.6"/>
<line x1="255.4" y1="139" x2="257.6" y2="151" stroke="#2c2c36" stroke-width="0.7"/>
<line x1="257.9" y1="139" x2="254.9" y2="151" stroke="#3a3a46" stroke-width="0.6"/>
<line x1="258.3" y1="139" x2="260.5" y2="151" stroke="#2c2c36" stroke-width="0.7"/>
<line x1="260.8" y1="139" x2="257.8" y2="151" stroke="#3a3a46" stroke-width="0.6"/>
<line x1="261.2" y1="139" x2="263.4" y2="151" stroke="#2c2c36" stroke-width="0.7"/>
<line x1="263.8" y1="139" x2="260.8" y2="151" stroke="#3a3a46" stroke-width="0.6"/>
<line x1="264.2" y1="139" x2="266.4" y2="151" stroke="#2c2c36" stroke-width="0.7"/>
<line x1="266.7" y1="139" x2="263.7" y2="151" stroke="#3a3a46" stroke-width="0.6"/>
<line x1="267.1" y1="139" x2="269.3" y2="151" stroke="#2c2c36" stroke-width="0.7"/>
<line x1="269.6" y1="139" x2="266.6" y2="151" stroke="#3a3a46" stroke-width="0.6"/>
<line x1="270.0" y1="139" x2="272.2" y2="151" stroke="#2c2c36" stroke-width="0.7"/>
<line x1="272.5" y1="139" x2="269.5" y2="151" stroke="#3a3a46" stroke-width="0.6"/>
<line x1="273.0" y1="139" x2="275.2" y2="151" stroke="#2c2c36" stroke-width="0.7"/>
<line x1="275.5" y1="139" x2="272.5" y2="151" stroke="#3a3a46" stroke-width="0.6"/>
<line x1="275.9" y1="139" x2="278.1" y2="151" stroke="#2c2c36" stroke-width="0.7"/>
<line x1="278.4" y1="139" x2="275.4" y2="151" stroke="#3a3a46" stroke-width="0.6"/>
<line x1="278.8" y1="139" x2="281.0" y2="151" stroke="#2c2c36" stroke-width="0.7"/>
<line x1="281.3" y1="139" x2="278.3" y2="151" stroke="#3a3a46" stroke-width="0.6"/>
<line x1="281.8" y1="139" x2="284.0" y2="151" stroke="#2c2c36" stroke-width="0.7"/>
<line x1="284.3" y1="139" x2="281.3" y2="151" stroke="#3a3a46" stroke-width="0.6"/>
<line x1="284.7" y1="139" x2="286.9" y2="151" stroke="#2c2c36" stroke-width="0.7"/>
<line x1="287.2" y1="139" x2="284.2" y2="151" stroke="#3a3a46" stroke-width="0.6"/>
<line x1="287.6" y1="139" x2="289.8" y2="151" stroke="#2c2c36" stroke-width="0.7"/>
<line x1="290.1" y1="139" x2="287.1" y2="151" stroke="#3a3a46" stroke-width="0.6"/>
<line x1="290.6" y1="139" x2="292.8" y2="151" stroke="#2c2c36" stroke-width="0.7"/>
<line x1="293.1" y1="139" x2="290.1" y2="151" stroke="#3a3a46" stroke-width="0.6"/>
<line x1="293.5" y1="139" x2="295.7" y2="151" stroke="#2c2c36" stroke-width="0.7"/>
<line x1="296.0" y1="139" x2="293.0" y2="151" stroke="#3a3a46" stroke-width="0.6"/>
<line x1="296.4" y1="139" x2="298.6" y2="151" stroke="#2c2c36" stroke-width="0.7"/>
<line x1="298.9" y1="139" x2="295.9" y2="151" stroke="#3a3a46" stroke-width="0.6"/>
<line x1="299.3" y1="139" x2="301.5" y2="151" stroke="#2c2c36" stroke-width="0.7"/>
<line x1="301.8" y1="139" x2="298.8" y2="151" stroke="#3a3a46" stroke-width="0.6"/>
<line x1="302.3" y1="139" x2="304.5" y2="151" stroke="#2c2c36" stroke-width="0.7"/>
<line x1="304.8" y1="139" x2="301.8" y2="151" stroke="#3a3a46" stroke-width="0.6"/>
<line x1="305.2" y1="139" x2="307.4" y2="151" stroke="#2c2c36" stroke-width="0.7"/>
<line x1="307.7" y1="139" x2="304.7" y2="151" stroke="#3a3a46" stroke-width="0.6"/>
<line x1="308.1" y1="139" x2="310.3" y2="151" stroke="#2c2c36" stroke-width="0.7"/>
<line x1="310.6" y1="139" x2="307.6" y2="151" stroke="#3a3a46" stroke-width="0.6"/>
<line x1="311.1" y1="139" x2="313.3" y2="151" stroke="#2c2c36" stroke-width="0.7"/>
<line x1="313.6" y1="139" x2="310.6" y2="151" stroke="#3a3a46" stroke-width="0.6"/>
<line x1="314.0" y1="139" x2="316.2" y2="151" stroke="#2c2c36" stroke-width="0.7"/>
<line x1="316.5" y1="139" x2="313.5" y2="151" stroke="#3a3a46" stroke-width="0.6"/>
<line x1="316.9" y1="139" x2="319.1" y2="151" stroke="#2c2c36" stroke-width="0.7"/>
<line x1="319.4" y1="139" x2="316.4" y2="151" stroke="#3a3a46" stroke-width="0.6"/>
<line x1="319.9" y1="139" x2="322.1" y2="151" stroke="#2c2c36" stroke-width="0.7"/>
<line x1="322.4" y1="139" x2="319.4" y2="151" stroke="#3a3a46" stroke-width="0.6"/>
<line x1="322.8" y1="139" x2="325.0" y2="151" stroke="#2c2c36" stroke-width="0.7"/>
<line x1="325.3" y1="139" x2="322.3" y2="151" stroke="#3a3a46" stroke-width="0.6"/>
<rect x="188.5" y="135.3" width="129.5" height="3.9" fill="#1e1e22" opacity="0.9"/>
<rect x="186" y="138.8" width="133" height="3" fill="#23232c" opacity="0.65"/>
<circle cx="186.5" cy="140.2" r="1" fill="#23283a"/>
<circle cx="189.4" cy="140.2" r="1" fill="#23283a"/>
<circle cx="192.4" cy="140.2" r="1" fill="#23283a"/>
<circle cx="195.3" cy="140.2" r="1" fill="#23283a"/>
<circle cx="198.2" cy="140.2" r="1" fill="#23283a"/>
<circle cx="201.2" cy="140.2" r="1" fill="#23283a"/>
<circle cx="204.1" cy="140.2" r="1" fill="#23283a"/>
<circle cx="207.0" cy="140.2" r="1" fill="#23283a"/>
<circle cx="209.9" cy="140.2" r="1" fill="#23283a"/>
<circle cx="212.9" cy="140.2" r="1" fill="#23283a"/>
<circle cx="215.8" cy="140.2" r="1" fill="#23283a"/>
<circle cx="218.7" cy="140.2" r="1" fill="#23283a"/>
<circle cx="221.7" cy="140.2" r="1" fill="#23283a"/>
<circle cx="224.6" cy="140.2" r="1" fill="#23283a"/>
<circle cx="227.5" cy="140.2" r="1" fill="#23283a"/>
<circle cx="230.4" cy="140.2" r="1" fill="#23283a"/>
<circle cx="233.4" cy="140.2" r="1" fill="#23283a"/>
<circle cx="236.3" cy="140.2" r="1" fill="#23283a"/>
<circle cx="239.2" cy="140.2" r="1" fill="#23283a"/>
<circle cx="242.2" cy="140.2" r="1" fill="#23283a"/>
<circle cx="245.1" cy="140.2" r="1" fill="#23283a"/>
<circle cx="248.0" cy="140.2" r="1" fill="#23283a"/>
<circle cx="251.0" cy="140.2" r="1" fill="#23283a"/>
<circle cx="253.9" cy="140.2" r="1" fill="#23283a"/>
<circle cx="256.8" cy="140.2" r="1" fill="#23283a"/>
<circle cx="259.8" cy="140.2" r="1" fill="#23283a"/>
<circle cx="262.7" cy="140.2" r="1" fill="#23283a"/>
<circle cx="265.6" cy="140.2" r="1" fill="#23283a"/>
<circle cx="268.5" cy="140.2" r="1" fill="#23283a"/>
<circle cx="271.5" cy="140.2" r="1" fill="#23283a"/>
<circle cx="274.4" cy="140.2" r="1" fill="#23283a"/>
<circle cx="277.3" cy="140.2" r="1" fill="#23283a"/>
<circle cx="280.3" cy="140.2" r="1" fill="#23283a"/>
<circle cx="283.2" cy="140.2" r="1" fill="#23283a"/>
<circle cx="286.1" cy="140.2" r="1" fill="#23283a"/>
<circle cx="289.1" cy="140.2" r="1" fill="#23283a"/>
<circle cx="292.0" cy="140.2" r="1" fill="#23283a"/>
<circle cx="294.9" cy="140.2" r="1" fill="#23283a"/>
<circle cx="297.8" cy="140.2" r="1" fill="#23283a"/>
<circle cx="300.8" cy="140.2" r="1" fill="#23283a"/>
<circle cx="303.7" cy="140.2" r="1" fill="#23283a"/>
<circle cx="306.6" cy="140.2" r="1" fill="#23283a"/>
<circle cx="309.6" cy="140.2" r="1" fill="#23283a"/>
<circle cx="312.5" cy="140.2" r="1" fill="#23283a"/>
<circle cx="315.4" cy="140.2" r="1" fill="#23283a"/>
<rect x="222" y="135" width="68" height="12" fill="#ff1030" opacity="0.28" filter="url(#blur2)"/>
<circle cx="193.8" cy="147.8" r="2.9" fill="url(#gAu)"/>
<circle cx="201.9" cy="147.8" r="2.9" fill="url(#gAu)"/>
<circle cx="209.6" cy="147.8" r="2.9" fill="url(#gAu)"/>
<circle cx="217.3" cy="147.8" r="2.9" fill="url(#gAu)"/>
<circle cx="226.6" cy="147.8" r="2.9" fill="url(#gAu)"/>
<circle cx="234.5" cy="147.8" r="2.9" fill="url(#gAu)"/>
<circle cx="245" cy="147.8" r="2.9" fill="url(#gAu)"/>
<circle cx="252.5" cy="147.8" r="2.9" fill="url(#gAu)"/>
<circle cx="270.5" cy="147.8" r="2.9" fill="url(#gAu)"/>
<circle cx="277.5" cy="147.8" r="2.9" fill="url(#gAu)"/>
<circle cx="298" cy="147.8" r="2.9" fill="url(#gAu)"/>
<circle cx="304" cy="147.8" r="2.9" fill="url(#gAu)"/>
<circle cx="321.9" cy="147.8" r="2.9" fill="url(#gAu)"/>
<line x1="321.9" y1="146" x2="321.9" y2="141.3" stroke="#222" stroke-width="0.6"/><line x1="322.5" y1="147" x2="329" y2="141.3" stroke="#222" stroke-width="0.6"/><circle cx="321.9" cy="141.3" r="1.1" fill="#111a30"/><circle cx="329" cy="141.3" r="1.1" fill="#111a30"/>
</g>
<g id="inset" clip-path="url(#circ)">
<rect x="465" y="68.5" width="200" height="90" fill="#1d1d1d"/>
<rect x="465" y="72" width="200" height="6" fill="#343434"/>
<rect x="465" y="84" width="200" height="6" fill="#2a2a2a"/>
<rect x="465" y="90" width="200" height="45" fill="#37393c"/>
<line x1="451" y1="91" x2="467" y2="135" stroke="#5c5c5c" stroke-width="0.8"/>
<line x1="467" y1="91" x2="451" y2="135" stroke="#4e4e4e" stroke-width="0.8"/>
<line x1="456" y1="91" x2="472" y2="135" stroke="#5c5c5c" stroke-width="0.8"/>
<line x1="472" y1="91" x2="456" y2="135" stroke="#4e4e4e" stroke-width="0.8"/>
<line x1="461" y1="91" x2="477" y2="135" stroke="#5c5c5c" stroke-width="0.8"/>
<line x1="477" y1="91" x2="461" y2="135" stroke="#4e4e4e" stroke-width="0.8"/>
<line x1="466" y1="91" x2="482" y2="135" stroke="#5c5c5c" stroke-width="0.8"/>
<line x1="482" y1="91" x2="466" y2="135" stroke="#4e4e4e" stroke-width="0.8"/>
<line x1="471" y1="91" x2="487" y2="135" stroke="#5c5c5c" stroke-width="0.8"/>
<line x1="487" y1="91" x2="471" y2="135" stroke="#4e4e4e" stroke-width="0.8"/>
<line x1="476" y1="91" x2="492" y2="135" stroke="#5c5c5c" stroke-width="0.8"/>
<line x1="492" y1="91" x2="476" y2="135" stroke="#4e4e4e" stroke-width="0.8"/>
<line x1="481" y1="91" x2="497" y2="135" stroke="#5c5c5c" stroke-width="0.8"/>
<line x1="497" y1="91" x2="481" y2="135" stroke="#4e4e4e" stroke-width="0.8"/>
<line x1="486" y1="91" x2="502" y2="135" stroke="#5c5c5c" stroke-width="0.8"/>
<line x1="502" y1="91" x2="486" y2="135" stroke="#4e4e4e" stroke-width="0.8"/>
<line x1="491" y1="91" x2="507" y2="135" stroke="#5c5c5c" stroke-width="0.8"/>
<line x1="507" y1="91" x2="491" y2="135" stroke="#4e4e4e" stroke-width="0.8"/>
<line x1="496" y1="91" x2="512" y2="135" stroke="#5c5c5c" stroke-width="0.8"/>
<line x1="512" y1="91" x2="496" y2="135" stroke="#4e4e4e" stroke-width="0.8"/>
<line x1="501" y1="91" x2="517" y2="135" stroke="#5c5c5c" stroke-width="0.8"/>
<line x1="517" y1="91" x2="501" y2="135" stroke="#4e4e4e" stroke-width="0.8"/>
<line x1="506" y1="91" x2="522" y2="135" stroke="#5c5c5c" stroke-width="0.8"/>
<line x1="522" y1="91" x2="506" y2="135" stroke="#4e4e4e" stroke-width="0.8"/>
<line x1="511" y1="91" x2="527" y2="135" stroke="#5c5c5c" stroke-width="0.8"/>
<line x1="527" y1="91" x2="511" y2="135" stroke="#4e4e4e" stroke-width="0.8"/>
<line x1="516" y1="91" x2="532" y2="135" stroke="#5c5c5c" stroke-width="0.8"/>
<line x1="532" y1="91" x2="516" y2="135" stroke="#4e4e4e" stroke-width="0.8"/>
<line x1="521" y1="91" x2="537" y2="135" stroke="#5c5c5c" stroke-width="0.8"/>
<line x1="537" y1="91" x2="521" y2="135" stroke="#4e4e4e" stroke-width="0.8"/>
<line x1="526" y1="91" x2="542" y2="135" stroke="#5c5c5c" stroke-width="0.8"/>
<line x1="542" y1="91" x2="526" y2="135" stroke="#4e4e4e" stroke-width="0.8"/>
<line x1="531" y1="91" x2="547" y2="135" stroke="#5c5c5c" stroke-width="0.8"/>
<line x1="547" y1="91" x2="531" y2="135" stroke="#4e4e4e" stroke-width="0.8"/>
<line x1="536" y1="91" x2="552" y2="135" stroke="#5c5c5c" stroke-width="0.8"/>
<line x1="552" y1="91" x2="536" y2="135" stroke="#4e4e4e" stroke-width="0.8"/>
<line x1="541" y1="91" x2="557" y2="135" stroke="#5c5c5c" stroke-width="0.8"/>
<line x1="557" y1="91" x2="541" y2="135" stroke="#4e4e4e" stroke-width="0.8"/>
<line x1="546" y1="91" x2="562" y2="135" stroke="#5c5c5c" stroke-width="0.8"/>
<line x1="562" y1="91" x2="546" y2="135" stroke="#4e4e4e" stroke-width="0.8"/>
<line x1="551" y1="91" x2="567" y2="135" stroke="#5c5c5c" stroke-width="0.8"/>
<line x1="567" y1="91" x2="551" y2="135" stroke="#4e4e4e" stroke-width="0.8"/>
<line x1="556" y1="91" x2="572" y2="135" stroke="#5c5c5c" stroke-width="0.8"/>
<line x1="572" y1="91" x2="556" y2="135" stroke="#4e4e4e" stroke-width="0.8"/>
<line x1="561" y1="91" x2="577" y2="135" stroke="#5c5c5c" stroke-width="0.8"/>
<line x1="577" y1="91" x2="561" y2="135" stroke="#4e4e4e" stroke-width="0.8"/>
<line x1="566" y1="91" x2="582" y2="135" stroke="#5c5c5c" stroke-width="0.8"/>
<line x1="582" y1="91" x2="566" y2="135" stroke="#4e4e4e" stroke-width="0.8"/>
<line x1="571" y1="91" x2="587" y2="135" stroke="#5c5c5c" stroke-width="0.8"/>
<line x1="587" y1="91" x2="571" y2="135" stroke="#4e4e4e" stroke-width="0.8"/>
<line x1="576" y1="91" x2="592" y2="135" stroke="#5c5c5c" stroke-width="0.8"/>
<line x1="592" y1="91" x2="576" y2="135" stroke="#4e4e4e" stroke-width="0.8"/>
<line x1="581" y1="91" x2="597" y2="135" stroke="#5c5c5c" stroke-width="0.8"/>
<line x1="597" y1="91" x2="581" y2="135" stroke="#4e4e4e" stroke-width="0.8"/>
<line x1="586" y1="91" x2="602" y2="135" stroke="#5c5c5c" stroke-width="0.8"/>
<line x1="602" y1="91" x2="586" y2="135" stroke="#4e4e4e" stroke-width="0.8"/>
<line x1="591" y1="91" x2="607" y2="135" stroke="#5c5c5c" stroke-width="0.8"/>
<line x1="607" y1="91" x2="591" y2="135" stroke="#4e4e4e" stroke-width="0.8"/>
<line x1="596" y1="91" x2="612" y2="135" stroke="#5c5c5c" stroke-width="0.8"/>
<line x1="612" y1="91" x2="596" y2="135" stroke="#4e4e4e" stroke-width="0.8"/>
<line x1="601" y1="91" x2="617" y2="135" stroke="#5c5c5c" stroke-width="0.8"/>
<line x1="617" y1="91" x2="601" y2="135" stroke="#4e4e4e" stroke-width="0.8"/>
<line x1="606" y1="91" x2="622" y2="135" stroke="#5c5c5c" stroke-width="0.8"/>
<line x1="622" y1="91" x2="606" y2="135" stroke="#4e4e4e" stroke-width="0.8"/>
<line x1="611" y1="91" x2="627" y2="135" stroke="#5c5c5c" stroke-width="0.8"/>
<line x1="627" y1="91" x2="611" y2="135" stroke="#4e4e4e" stroke-width="0.8"/>
<line x1="616" y1="91" x2="632" y2="135" stroke="#5c5c5c" stroke-width="0.8"/>
<line x1="632" y1="91" x2="616" y2="135" stroke="#4e4e4e" stroke-width="0.8"/>
<line x1="621" y1="91" x2="637" y2="135" stroke="#5c5c5c" stroke-width="0.8"/>
<line x1="637" y1="91" x2="621" y2="135" stroke="#4e4e4e" stroke-width="0.8"/>
<line x1="626" y1="91" x2="642" y2="135" stroke="#5c5c5c" stroke-width="0.8"/>
<line x1="642" y1="91" x2="626" y2="135" stroke="#4e4e4e" stroke-width="0.8"/>
<line x1="631" y1="91" x2="647" y2="135" stroke="#5c5c5c" stroke-width="0.8"/>
<line x1="647" y1="91" x2="631" y2="135" stroke="#4e4e4e" stroke-width="0.8"/>
<line x1="636" y1="91" x2="652" y2="135" stroke="#5c5c5c" stroke-width="0.8"/>
<line x1="652" y1="91" x2="636" y2="135" stroke="#4e4e4e" stroke-width="0.8"/>
<line x1="641" y1="91" x2="657" y2="135" stroke="#5c5c5c" stroke-width="0.8"/>
<line x1="657" y1="91" x2="641" y2="135" stroke="#4e4e4e" stroke-width="0.8"/>
<line x1="646" y1="91" x2="662" y2="135" stroke="#5c5c5c" stroke-width="0.8"/>
<line x1="662" y1="91" x2="646" y2="135" stroke="#4e4e4e" stroke-width="0.8"/>
<line x1="651" y1="91" x2="667" y2="135" stroke="#5c5c5c" stroke-width="0.8"/>
<line x1="667" y1="91" x2="651" y2="135" stroke="#4e4e4e" stroke-width="0.8"/>
<line x1="656" y1="91" x2="672" y2="135" stroke="#5c5c5c" stroke-width="0.8"/>
<line x1="672" y1="91" x2="656" y2="135" stroke="#4e4e4e" stroke-width="0.8"/>
<line x1="661" y1="91" x2="677" y2="135" stroke="#5c5c5c" stroke-width="0.8"/>
<line x1="677" y1="91" x2="661" y2="135" stroke="#4e4e4e" stroke-width="0.8"/>
<polygon points="555.5,112 566,104 575,112 566,120" fill="#f2f2f2"/>
<line x1="485" y1="92" x2="477" y2="114" stroke="#747474" stroke-width="1.9"/>
<line x1="485" y1="92" x2="499" y2="108" stroke="#747474" stroke-width="1.9"/>
<line x1="510" y1="95" x2="499" y2="108" stroke="#747474" stroke-width="1.9"/>
<line x1="510" y1="95" x2="530" y2="115" stroke="#747474" stroke-width="1.9"/>
<line x1="530" y1="92" x2="530" y2="115" stroke="#747474" stroke-width="1.9"/>
<line x1="549" y1="95" x2="530" y2="115" stroke="#747474" stroke-width="1.9"/>
<line x1="549" y1="95" x2="548" y2="108" stroke="#747474" stroke-width="1.9"/>
<line x1="568" y1="94" x2="548" y2="108" stroke="#747474" stroke-width="1.9"/>
<line x1="568" y1="94" x2="587" y2="115" stroke="#747474" stroke-width="1.9"/>
<line x1="585" y1="95" x2="587" y2="115" stroke="#747474" stroke-width="1.9"/>
<line x1="609" y1="94" x2="587" y2="115" stroke="#747474" stroke-width="1.9"/>
<line x1="609" y1="94" x2="605" y2="110" stroke="#747474" stroke-width="1.9"/>
<line x1="628" y1="95" x2="605" y2="110" stroke="#747474" stroke-width="1.9"/>
<line x1="628" y1="95" x2="645" y2="115" stroke="#747474" stroke-width="1.9"/>
<line x1="650" y1="95" x2="645" y2="115" stroke="#747474" stroke-width="1.9"/>
<line x1="490" y1="132" x2="477" y2="114" stroke="#747474" stroke-width="1.9"/>
<line x1="490" y1="132" x2="499" y2="108" stroke="#747474" stroke-width="1.9"/>
<line x1="500" y1="134" x2="530" y2="115" stroke="#747474" stroke-width="1.9"/>
<line x1="528" y1="132" x2="530" y2="115" stroke="#747474" stroke-width="1.9"/>
<line x1="549" y1="132" x2="530" y2="115" stroke="#747474" stroke-width="1.9"/>
<line x1="549" y1="132" x2="548" y2="108" stroke="#747474" stroke-width="1.9"/>
<line x1="565" y1="132" x2="548" y2="108" stroke="#747474" stroke-width="1.9"/>
<line x1="565" y1="132" x2="587" y2="115" stroke="#747474" stroke-width="1.9"/>
<line x1="588" y1="131" x2="587" y2="115" stroke="#747474" stroke-width="1.9"/>
<line x1="609" y1="134" x2="587" y2="115" stroke="#747474" stroke-width="1.9"/>
<line x1="609" y1="134" x2="605" y2="110" stroke="#747474" stroke-width="1.9"/>
<line x1="630" y1="134" x2="605" y2="110" stroke="#747474" stroke-width="1.9"/>
<line x1="630" y1="134" x2="645" y2="115" stroke="#747474" stroke-width="1.9"/>
<line x1="650" y1="131" x2="645" y2="115" stroke="#747474" stroke-width="1.9"/>
<line x1="528" y1="132" x2="499" y2="108" stroke="#747474" stroke-width="1.9"/>
<line x1="588" y1="131" x2="605" y2="110" stroke="#747474" stroke-width="1.9"/>
<line x1="568" y1="94" x2="566.5" y2="131" stroke="#747474" stroke-width="1.9"/>
<line x1="566.5" y1="102" x2="556" y2="119" stroke="#747474" stroke-width="1.9"/>
<line x1="566.5" y1="102" x2="577" y2="119" stroke="#747474" stroke-width="1.9"/>
<line x1="566.5" y1="123" x2="555" y2="106" stroke="#747474" stroke-width="1.9"/>
<line x1="566.5" y1="123" x2="578" y2="106" stroke="#747474" stroke-width="1.9"/>
<circle cx="467.8" cy="72.1" r="4.1" fill="url(#gC)"/>
<circle cx="468.3" cy="83.5" r="4.1" fill="url(#gC)"/>
<circle cx="476.4" cy="77" r="2.4" fill="url(#gC)" opacity="0.55"/>
<circle cx="478.8" cy="88" r="2.4" fill="url(#gC)" opacity="0.6"/>
<circle cx="484.4" cy="72.1" r="4.1" fill="url(#gC)"/>
<circle cx="484.9" cy="83.5" r="4.1" fill="url(#gC)"/>
<circle cx="493.0" cy="77" r="2.4" fill="url(#gC)" opacity="0.55"/>
<circle cx="495.4" cy="88" r="2.4" fill="url(#gC)" opacity="0.6"/>
<circle cx="501.0" cy="72.1" r="4.1" fill="url(#gC)"/>
<circle cx="501.5" cy="83.5" r="4.1" fill="url(#gC)"/>
<circle cx="509.6" cy="77" r="2.4" fill="url(#gC)" opacity="0.55"/>
<circle cx="512.0" cy="88" r="2.4" fill="url(#gC)" opacity="0.6"/>
<circle cx="517.6" cy="72.1" r="4.1" fill="url(#gC)"/>
<circle cx="518.1" cy="83.5" r="4.1" fill="url(#gC)"/>
<circle cx="526.2" cy="77" r="2.4" fill="url(#gC)" opacity="0.55"/>
<circle cx="528.6" cy="88" r="2.4" fill="url(#gC)" opacity="0.6"/>
<circle cx="534.2" cy="72.1" r="4.1" fill="url(#gC)"/>
<circle cx="534.7" cy="83.5" r="4.1" fill="url(#gC)"/>
<circle cx="542.8" cy="77" r="2.4" fill="url(#gC)" opacity="0.55"/>
<circle cx="545.2" cy="88" r="2.4" fill="url(#gC)" opacity="0.6"/>
<circle cx="550.8" cy="72.1" r="4.1" fill="url(#gC)"/>
<circle cx="551.3" cy="83.5" r="4.1" fill="url(#gC)"/>
<circle cx="559.4" cy="77" r="2.4" fill="url(#gC)" opacity="0.55"/>
<circle cx="561.8" cy="88" r="2.4" fill="url(#gC)" opacity="0.6"/>
<circle cx="567.4" cy="72.1" r="4.1" fill="url(#gC)"/>
<circle cx="567.9" cy="83.5" r="4.1" fill="url(#gC)"/>
<circle cx="576.0" cy="77" r="2.4" fill="url(#gC)" opacity="0.55"/>
<circle cx="578.4" cy="88" r="2.4" fill="url(#gC)" opacity="0.6"/>
<circle cx="584.0" cy="72.1" r="4.1" fill="url(#gC)"/>
<circle cx="584.5" cy="83.5" r="4.1" fill="url(#gC)"/>
<circle cx="592.6" cy="77" r="2.4" fill="url(#gC)" opacity="0.55"/>
<circle cx="595.0" cy="88" r="2.4" fill="url(#gC)" opacity="0.6"/>
<circle cx="600.6" cy="72.1" r="4.1" fill="url(#gC)"/>
<circle cx="601.1" cy="83.5" r="4.1" fill="url(#gC)"/>
<circle cx="609.2" cy="77" r="2.4" fill="url(#gC)" opacity="0.55"/>
<circle cx="611.6" cy="88" r="2.4" fill="url(#gC)" opacity="0.6"/>
<circle cx="617.2" cy="72.1" r="4.1" fill="url(#gC)"/>
<circle cx="617.7" cy="83.5" r="4.1" fill="url(#gC)"/>
<circle cx="625.8" cy="77" r="2.4" fill="url(#gC)" opacity="0.55"/>
<circle cx="628.2" cy="88" r="2.4" fill="url(#gC)" opacity="0.6"/>
<circle cx="633.8" cy="72.1" r="4.1" fill="url(#gC)"/>
<circle cx="634.3" cy="83.5" r="4.1" fill="url(#gC)"/>
<circle cx="642.4" cy="77" r="2.4" fill="url(#gC)" opacity="0.55"/>
<circle cx="644.8" cy="88" r="2.4" fill="url(#gC)" opacity="0.6"/>
<circle cx="650.4" cy="72.1" r="4.1" fill="url(#gC)"/>
<circle cx="650.9" cy="83.5" r="4.1" fill="url(#gC)"/>
<circle cx="659.0" cy="77" r="2.4" fill="url(#gC)" opacity="0.55"/>
<circle cx="661.4" cy="88" r="2.4" fill="url(#gC)" opacity="0.6"/>
<circle cx="667.0" cy="72.1" r="4.1" fill="url(#gC)"/>
<circle cx="667.5" cy="83.5" r="4.1" fill="url(#gC)"/>
<circle cx="675.6" cy="77" r="2.4" fill="url(#gC)" opacity="0.55"/>
<circle cx="678.0" cy="88" r="2.4" fill="url(#gC)" opacity="0.6"/>
<rect x="465" y="134.5" width="200" height="24" fill="#1d1d1d"/>
<circle cx="466.0" cy="138.6" r="2.7" fill="url(#gC)"/>
<circle cx="474.4" cy="137.4" r="2.7" fill="url(#gC)"/>
<circle cx="482.8" cy="138.6" r="2.7" fill="url(#gC)"/>
<circle cx="491.2" cy="137.4" r="2.7" fill="url(#gC)"/>
<circle cx="499.6" cy="138.6" r="2.7" fill="url(#gC)"/>
<circle cx="508.0" cy="137.4" r="2.7" fill="url(#gC)"/>
<circle cx="516.4" cy="138.6" r="2.7" fill="url(#gC)"/>
<circle cx="524.8" cy="137.4" r="2.7" fill="url(#gC)"/>
<circle cx="533.2" cy="138.6" r="2.7" fill="url(#gC)"/>
<circle cx="541.6" cy="137.4" r="2.7" fill="url(#gC)"/>
<circle cx="550.0" cy="138.6" r="2.7" fill="url(#gC)"/>
<circle cx="558.4" cy="137.4" r="2.7" fill="url(#gC)"/>
<circle cx="566.8" cy="138.6" r="2.7" fill="url(#gC)"/>
<circle cx="575.2" cy="137.4" r="2.7" fill="url(#gC)"/>
<circle cx="583.6" cy="138.6" r="2.7" fill="url(#gC)"/>
<circle cx="592.0" cy="137.4" r="2.7" fill="url(#gC)"/>
<circle cx="600.4" cy="138.6" r="2.7" fill="url(#gC)"/>
<circle cx="608.8" cy="137.4" r="2.7" fill="url(#gC)"/>
<circle cx="617.2" cy="138.6" r="2.7" fill="url(#gC)"/>
<circle cx="625.6" cy="137.4" r="2.7" fill="url(#gC)"/>
<circle cx="634.0" cy="138.6" r="2.7" fill="url(#gC)"/>
<circle cx="642.4" cy="137.4" r="2.7" fill="url(#gC)"/>
<circle cx="650.8" cy="138.6" r="2.7" fill="url(#gC)"/>
<circle cx="659.2" cy="137.4" r="2.7" fill="url(#gC)"/>
<circle cx="667.6" cy="138.6" r="2.7" fill="url(#gC)"/>
<circle cx="473.0" cy="144.6" r="3.3" fill="url(#gC)"/>
<circle cx="465.0" cy="148" r="2.6" fill="url(#gC)" opacity="0.7"/>
<circle cx="468.0" cy="152" r="3.6" fill="url(#gC)"/>
<circle cx="476.3" cy="156.4" r="3.5" fill="url(#gC)"/>
<circle cx="489.6" cy="144.6" r="3.3" fill="url(#gC)"/>
<circle cx="481.6" cy="148" r="2.6" fill="url(#gC)" opacity="0.7"/>
<circle cx="484.6" cy="152" r="3.6" fill="url(#gC)"/>
<circle cx="492.9" cy="156.4" r="3.5" fill="url(#gC)"/>
<circle cx="506.2" cy="144.6" r="3.3" fill="url(#gC)"/>
<circle cx="498.2" cy="148" r="2.6" fill="url(#gC)" opacity="0.7"/>
<circle cx="501.2" cy="152" r="3.6" fill="url(#gC)"/>
<circle cx="509.5" cy="156.4" r="3.5" fill="url(#gC)"/>
<circle cx="522.8" cy="144.6" r="3.3" fill="url(#gC)"/>
<circle cx="514.8" cy="148" r="2.6" fill="url(#gC)" opacity="0.7"/>
<circle cx="517.8" cy="152" r="3.6" fill="url(#gC)"/>
<circle cx="526.1" cy="156.4" r="3.5" fill="url(#gC)"/>
<circle cx="539.4" cy="144.6" r="3.3" fill="url(#gC)"/>
<circle cx="531.4" cy="148" r="2.6" fill="url(#gC)" opacity="0.7"/>
<circle cx="534.4" cy="152" r="3.6" fill="url(#gC)"/>
<circle cx="542.7" cy="156.4" r="3.5" fill="url(#gC)"/>
<circle cx="556.0" cy="144.6" r="3.3" fill="url(#gC)"/>
<circle cx="548.0" cy="148" r="2.6" fill="url(#gC)" opacity="0.7"/>
<circle cx="551.0" cy="152" r="3.6" fill="url(#gC)"/>
<circle cx="559.3" cy="156.4" r="3.5" fill="url(#gC)"/>
<circle cx="572.6" cy="144.6" r="3.3" fill="url(#gC)"/>
<circle cx="564.6" cy="148" r="2.6" fill="url(#gC)" opacity="0.7"/>
<circle cx="567.6" cy="152" r="3.6" fill="url(#gC)"/>
<circle cx="575.9" cy="156.4" r="3.5" fill="url(#gC)"/>
<circle cx="589.2" cy="144.6" r="3.3" fill="url(#gC)"/>
<circle cx="581.2" cy="148" r="2.6" fill="url(#gC)" opacity="0.7"/>
<circle cx="584.2" cy="152" r="3.6" fill="url(#gC)"/>
<circle cx="592.5" cy="156.4" r="3.5" fill="url(#gC)"/>
<circle cx="605.8" cy="144.6" r="3.3" fill="url(#gC)"/>
<circle cx="597.8" cy="148" r="2.6" fill="url(#gC)" opacity="0.7"/>
<circle cx="600.8" cy="152" r="3.6" fill="url(#gC)"/>
<circle cx="609.1" cy="156.4" r="3.5" fill="url(#gC)"/>
<circle cx="622.4" cy="144.6" r="3.3" fill="url(#gC)"/>
<circle cx="614.4" cy="148" r="2.6" fill="url(#gC)" opacity="0.7"/>
<circle cx="617.4" cy="152" r="3.6" fill="url(#gC)"/>
<circle cx="625.7" cy="156.4" r="3.5" fill="url(#gC)"/>
<circle cx="639.0" cy="144.6" r="3.3" fill="url(#gC)"/>
<circle cx="631.0" cy="148" r="2.6" fill="url(#gC)" opacity="0.7"/>
<circle cx="634.0" cy="152" r="3.6" fill="url(#gC)"/>
<circle cx="642.3" cy="156.4" r="3.5" fill="url(#gC)"/>
<circle cx="655.6" cy="144.6" r="3.3" fill="url(#gC)"/>
<circle cx="647.6" cy="148" r="2.6" fill="url(#gC)" opacity="0.7"/>
<circle cx="650.6" cy="152" r="3.6" fill="url(#gC)"/>
<circle cx="658.9" cy="156.4" r="3.5" fill="url(#gC)"/>
<circle cx="672.2" cy="144.6" r="3.3" fill="url(#gC)"/>
<circle cx="664.2" cy="148" r="2.6" fill="url(#gC)" opacity="0.7"/>
<circle cx="667.2" cy="152" r="3.6" fill="url(#gC)"/>
<circle cx="675.5" cy="156.4" r="3.5" fill="url(#gC)"/>
<circle cx="688.8" cy="144.6" r="3.3" fill="url(#gC)"/>
<circle cx="680.8" cy="148" r="2.6" fill="url(#gC)" opacity="0.7"/>
<circle cx="683.8" cy="152" r="3.6" fill="url(#gC)"/>
<circle cx="692.1" cy="156.4" r="3.5" fill="url(#gC)"/>
<circle cx="485" cy="92.3" r="3.7" fill="url(#gB)"/>
<circle cx="510.3" cy="95" r="3.7" fill="url(#gB)"/>
<circle cx="530.3" cy="92.3" r="3.7" fill="url(#gB)"/>
<circle cx="549" cy="95" r="3.7" fill="url(#gB)"/>
<circle cx="568.5" cy="93.5" r="3.7" fill="url(#gB)"/>
<circle cx="585.3" cy="95" r="3.7" fill="url(#gB)"/>
<circle cx="609.3" cy="93.6" r="3.7" fill="url(#gB)"/>
<circle cx="627.9" cy="95" r="3.7" fill="url(#gB)"/>
<circle cx="638.6" cy="95" r="3.7" fill="url(#gB)"/>
<circle cx="650.5" cy="95" r="3.7" fill="url(#gB)"/>
<circle cx="470" cy="94" r="3.7" fill="url(#gB)"/>
<circle cx="490.3" cy="132.3" r="3.7" fill="url(#gB)"/>
<circle cx="499.7" cy="133.7" r="3.7" fill="url(#gB)"/>
<circle cx="527.7" cy="132.3" r="3.7" fill="url(#gB)"/>
<circle cx="549" cy="132.3" r="3.7" fill="url(#gB)"/>
<circle cx="564.5" cy="131.5" r="3.7" fill="url(#gB)"/>
<circle cx="588" cy="130.9" r="3.7" fill="url(#gB)"/>
<circle cx="609.3" cy="133.6" r="3.7" fill="url(#gB)"/>
<circle cx="629.8" cy="133.6" r="3.7" fill="url(#gB)"/>
<circle cx="650.5" cy="131" r="3.7" fill="url(#gB)"/>
<circle cx="473" cy="133" r="3.7" fill="url(#gB)"/>
<circle cx="506.3" cy="101.7" r="2.2" fill="url(#gG)"/>
<circle cx="514.3" cy="103" r="2.2" fill="url(#gG)"/>
<circle cx="506.3" cy="125.7" r="2.2" fill="url(#gG)"/>
<circle cx="514.3" cy="123" r="2.2" fill="url(#gG)"/>
<circle cx="567.2" cy="101.8" r="2.2" fill="url(#gG)"/>
<circle cx="567.2" cy="122.4" r="2.2" fill="url(#gG)"/>
<circle cx="620" cy="104.3" r="2.2" fill="url(#gG)"/>
<circle cx="629.8" cy="102.4" r="2.2" fill="url(#gG)"/>
<circle cx="614.6" cy="124.8" r="2.2" fill="url(#gG)"/>
<circle cx="629.8" cy="126.4" r="2.2" fill="url(#gG)"/>
<circle cx="597" cy="101" r="2.2" fill="url(#gG)"/>
<circle cx="598" cy="126" r="2.2" fill="url(#gG)"/>
<circle cx="499.7" cy="108.3" r="4.5" fill="url(#gS)"/>
<circle cx="649.2" cy="107" r="4" fill="url(#gS)"/>
<circle cx="623.9" cy="114.9" r="6.2" fill="url(#gY)"/>
<circle cx="477" cy="114.2" r="7.5" fill="url(#gY)"/>
<circle cx="530.3" cy="115" r="8" fill="url(#gY)"/>
<circle cx="586.6" cy="114.9" r="8.5" fill="url(#gY)"/>
<circle cx="645.2" cy="114.9" r="8" fill="url(#gY)"/>
<circle cx="491.1" cy="107" r="5" fill="url(#gS)"/>
<circle cx="548.2" cy="108.3" r="6" fill="url(#gS)"/>
<circle cx="605.3" cy="109.6" r="6" fill="url(#gS)"/>
<line x1="530" y1="95" x2="531" y2="134" stroke="#7c7c7c" stroke-width="1.5" opacity="0.85"/>
<line x1="587" y1="96" x2="588" y2="133" stroke="#7c7c7c" stroke-width="1.5" opacity="0.85"/>
<line x1="477" y1="98" x2="478" y2="132" stroke="#7c7c7c" stroke-width="1.5" opacity="0.85"/>
<line x1="645" y1="97" x2="646" y2="132" stroke="#7c7c7c" stroke-width="1.5" opacity="0.85"/>
<line x1="520" y1="122" x2="541" y2="108" stroke="#7c7c7c" stroke-width="1.5" opacity="0.85"/>
<line x1="576" y1="122" x2="598" y2="108" stroke="#7c7c7c" stroke-width="1.5" opacity="0.85"/>
</g>
<g id="callout" fill="none" stroke="#1070c0" stroke-width="2.2" stroke-linecap="butt">
<ellipse cx="295.2" cy="146.2" rx="16.3" ry="16.6" stroke-dasharray="9.33 5.8 14.7 6.1 34.5 6.7 26.2 0"/>
<line x1="294.1" y1="130" x2="541" y2="22.6" stroke-dasharray="26.4 10.9"/>
<line x1="292.8" y1="161.7" x2="549" y2="205.4" stroke-dasharray="26.4 10.9"/>
<ellipse cx="564.8" cy="112.5" rx="93.8" ry="92.8" stroke-dasharray="26 10.64" stroke-dashoffset="-2.2"/>
</g>
<text x="353" y="125.4" font-size="22" letter-spacing="0.9" fill="#1a1414">AgBiP<tspan font-size="12" dy="4.5">2</tspan><tspan dy="-4.5">Se</tspan><tspan font-size="12" dy="4.5">6</tspan></text>
<text x="512.5" y="60.7" font-size="20" letter-spacing="2">Graphene</text>
<text x="512.5" y="178" font-size="20" letter-spacing="2">Graphene</text><g id="chart1">
<rect x="76.9" y="239.3" width="28.6" height="142.5" fill="#f5abab"/>
<rect x="105.5" y="239.3" width="62.3" height="142.5" fill="#a8c6f3"/>
<rect x="167.8" y="239.3" width="55.1" height="142.5" fill="#c0c0c0"/>
<line x1="76.9" y1="239.3" x2="76.9" y2="381.8" stroke="#9a9a9a" stroke-width="0.7" stroke-dasharray="2.5 1.5"/>
<line x1="105.5" y1="239.3" x2="105.5" y2="381.8" stroke="#9a9a9a" stroke-width="0.7" stroke-dasharray="2.5 1.5"/>
<line x1="167.8" y1="239.3" x2="167.8" y2="381.8" stroke="#9a9a9a" stroke-width="0.7" stroke-dasharray="2.5 1.5"/>
<line x1="222.9" y1="239.3" x2="222.9" y2="381.8" stroke="#9a9a9a" stroke-width="0.7" stroke-dasharray="2.5 1.5"/>
<polyline clip-path="url(#p1)" fill="none" stroke="#3b78c8" stroke-width="1.1" stroke-linejoin="round" points="54,247.4 55.5,246.6 57.5,246.2 59.5,247.0 61.5,246.1 63.5,246.9 65.5,246.2 67.5,247.1 69.5,246.4 71.5,247.6 73.3,246.7 74.6,247.2 75.6,248.8 76.4,252 77.8,273.2 79.5,290.6 81.3,307.9 83,321.8 84.7,334 86.3,339 88.2,342.6 91.7,349.6 95.1,354.8 98.6,356.8 100.5,357 102.5,359.5 105.6,363.5 108,366.5 110.8,368.7 114,369.6 117.7,370.6 120,372.4 122.9,372.0 125.5,371.5 128.1,369.7 130.5,370.2 133.3,367.2 135,369.5 136.8,372.4 140.2,374.6 143,373.2 145.4,374.6 148,374.0 150.6,374.8 153,373 155.8,369.7 157.5,370.3 159.3,368.7 162.8,368.9 165,367 166.5,364.5 168,356.5 169.7,346.1 173.2,332.2 176.7,321.8 181.9,309.7 187.1,299.2 192.3,290.6 197.5,281.9 202.7,274.9 207.9,269 209.5,269.9 210.7,269.2 213.1,264.5 215.5,262.3 218.3,259.3 220,258.8 221.8,257.2 224,254.5 226,252.4 229.4,250.4 230.2,250.0"/>
<rect x="54.0" y="239.3" width="176.2" height="142.5" fill="none" stroke="#000" stroke-width="1.2"/>
<line x1="51.0" y1="245.9" x2="54.0" y2="245.9" stroke="#000" stroke-width="1"/>
<text x="49.0" y="249.5" font-size="10" text-anchor="end">1.0</text>
<line x1="51.0" y1="271.8" x2="54.0" y2="271.8" stroke="#000" stroke-width="1"/>
<text x="49.0" y="275.4" font-size="10" text-anchor="end">0.8</text>
<line x1="51.0" y1="297.7" x2="54.0" y2="297.7" stroke="#000" stroke-width="1"/>
<text x="49.0" y="301.3" font-size="10" text-anchor="end">0.6</text>
<line x1="51.0" y1="323.6" x2="54.0" y2="323.6" stroke="#000" stroke-width="1"/>
<text x="49.0" y="327.2" font-size="10" text-anchor="end">0.4</text>
<line x1="51.0" y1="349.5" x2="54.0" y2="349.5" stroke="#000" stroke-width="1"/>
<text x="49.0" y="353.1" font-size="10" text-anchor="end">0.2</text>
<line x1="51.0" y1="375.4" x2="54.0" y2="375.4" stroke="#000" stroke-width="1"/>
<text x="49.0" y="379.0" font-size="10" text-anchor="end">0.0</text>
<line x1="52.1" y1="258.9" x2="54.0" y2="258.9" stroke="#000" stroke-width="0.9"/>
<line x1="52.1" y1="284.8" x2="54.0" y2="284.8" stroke="#000" stroke-width="0.9"/>
<line x1="52.1" y1="310.6" x2="54.0" y2="310.6" stroke="#000" stroke-width="0.9"/>
<line x1="52.1" y1="336.6" x2="54.0" y2="336.6" stroke="#000" stroke-width="0.9"/>
<line x1="52.1" y1="362.4" x2="54.0" y2="362.4" stroke="#000" stroke-width="0.9"/>
<line x1="76.0" y1="381.8" x2="76.0" y2="383.7" stroke="#000" stroke-width="0.9"/>
<line x1="120.1" y1="381.8" x2="120.1" y2="383.7" stroke="#000" stroke-width="0.9"/>
<line x1="164.1" y1="381.8" x2="164.1" y2="383.7" stroke="#000" stroke-width="0.9"/>
<line x1="208.2" y1="381.8" x2="208.2" y2="383.7" stroke="#000" stroke-width="0.9"/>
<line x1="54.0" y1="381.8" x2="54.0" y2="384.8" stroke="#000" stroke-width="1"/>
<text x="54.0" y="395.6" font-size="10" text-anchor="middle">0.0</text>
<line x1="98.0" y1="381.8" x2="98.0" y2="384.8" stroke="#000" stroke-width="1"/>
<text x="98.0" y="395.6" font-size="10" text-anchor="middle">2.5</text>
<line x1="142.1" y1="381.8" x2="142.1" y2="384.8" stroke="#000" stroke-width="1"/>
<text x="142.1" y="395.6" font-size="10" text-anchor="middle">5.0</text>
<line x1="186.2" y1="381.8" x2="186.2" y2="384.8" stroke="#000" stroke-width="1"/>
<text x="186.2" y="395.6" font-size="10" text-anchor="middle">7.5</text>
<line x1="230.2" y1="381.8" x2="230.2" y2="384.8" stroke="#000" stroke-width="1"/>
<text x="230.2" y="395.6" font-size="10" text-anchor="middle">10.0</text>
<text x="142" y="415" font-size="14.5" text-anchor="middle">Time (sec)</text>
<text transform="translate(30.3,310.2) rotate(-90)" font-size="14.4" text-anchor="middle">Response (a. u.)</text>
<text x="121.2" y="250.3" font-size="8.3" font-style="italic">λ = 473 nm</text>
<text x="121.2" y="261.1" font-size="8.3" font-style="italic">V<tspan font-size="5.3" dy="1.6">ds</tspan><tspan dy="-1.6"> = 1.5 V</tspan></text>
<text x="80.8" y="291.4" font-size="10.7" font-style="italic" style="fill:#e8475a"><tspan style="font-weight:normal">τ</tspan><tspan font-size="6.5" dy="2.2">r</tspan><tspan dy="-2.2"> = 1.62 s</tspan></text>
<text x="114.4" y="324.4" font-size="10.7" font-style="italic" style="fill:#2f7fd6"><tspan style="font-weight:normal">τ</tspan><tspan font-size="6.5" dy="2.2">f</tspan><tspan dy="-2.2"> = 3.12 s</tspan></text>
</g>
<g id="chart2">
<g clip-path="url(#p2)">
<path d="M290.5,255.8 Q378.55,289.4 466.6,299.9 L466.6,324.9 Q378.55,290.9 290.5,279.8 Z" fill="#e8605a" opacity="0.18"/>
<path d="M290.5,259.6 Q378.55,290.0 466.6,304.0 L466.6,320.79999999999995 Q378.55,290.2 290.5,276.0 Z" fill="#ee6a62" opacity="0.45"/>
<path d="M290.5,286.8 Q378.55,319.8 466.6,317.7 L466.6,347.7 Q378.55,314.2 290.5,315.8 Z" fill="#4a86dc" opacity="0.16"/>
<path d="M290.5,291.1 Q378.55,320.0 466.6,322.5 L466.6,342.9 Q378.55,314.0 290.5,311.5 Z" fill="#4f8ae0" opacity="0.45"/>
<path d="M290.5,306.7 Q378.55,347.6 466.6,363.5 L466.6,387.5 Q378.55,346.1 290.5,329.7 Z" fill="#3fae6a" opacity="0.16"/>
<path d="M290.5,310.4 Q378.55,348.1 466.6,367.2 L466.6,383.8 Q378.55,345.6 290.5,326.0 Z" fill="#46b570" opacity="0.45"/>
<line x1="290.5" y1="267.8" x2="466.6" y2="312.4" stroke="#dc4a48" stroke-width="1.2" stroke-dasharray="5 4"/>
<line x1="290.5" y1="301.3" x2="466.6" y2="332.7" stroke="#2f74cf" stroke-width="1.2" stroke-dasharray="5 4"/>
<line x1="290.5" y1="318.2" x2="466.6" y2="375.5" stroke="#2f9e5c" stroke-width="1.2" stroke-dasharray="5 4"/>
</g>
<circle cx="334.4" cy="279.4" r="2.4" fill="none" stroke="#dc4a48" stroke-width="0.9"/>
<circle cx="378.1" cy="290.3" r="2.4" fill="none" stroke="#dc4a48" stroke-width="0.9"/>
<circle cx="396.6" cy="293.9" r="2.4" fill="none" stroke="#dc4a48" stroke-width="0.9"/>
<circle cx="421.6" cy="302.5" r="2.4" fill="none" stroke="#dc4a48" stroke-width="0.9"/>
<circle cx="334.4" cy="308.9" r="2.4" fill="none" stroke="#2f74cf" stroke-width="0.9"/>
<circle cx="378.1" cy="319.0" r="2.4" fill="none" stroke="#2f74cf" stroke-width="0.9"/>
<circle cx="396.6" cy="320.5" r="2.4" fill="none" stroke="#2f74cf" stroke-width="0.9"/>
<circle cx="408.2" cy="321.0" r="2.4" fill="none" stroke="#2f74cf" stroke-width="0.9"/>
<circle cx="347.6" cy="336.7" r="2.4" fill="none" stroke="#2f9e5c" stroke-width="0.9"/>
<circle cx="386.2" cy="350.8" r="2.4" fill="none" stroke="#2f9e5c" stroke-width="0.9"/>
<circle cx="408.7" cy="357.5" r="2.4" fill="none" stroke="#2f9e5c" stroke-width="0.9"/>
<circle cx="421.6" cy="361.2" r="2.4" fill="none" stroke="#2f9e5c" stroke-width="0.9"/>
<rect x="290.5" y="238.8" width="176.1" height="142.0" fill="none" stroke="#000" stroke-width="1.2"/>
<line x1="293.7" y1="380.8" x2="290.5" y2="380.8" stroke="#000" stroke-width="1"/>
<text x="289.6" y="384.2" font-size="9.8" text-anchor="end">10<tspan font-size="6.8" dy="-4">0</tspan></text>
<line x1="292.0" y1="375.5" x2="290.5" y2="375.5" stroke="#000" stroke-width="0.5"/>
<line x1="292.0" y1="372.3" x2="290.5" y2="372.3" stroke="#000" stroke-width="0.5"/>
<line x1="292.0" y1="370.1" x2="290.5" y2="370.1" stroke="#000" stroke-width="0.5"/>
<line x1="292.0" y1="368.4" x2="290.5" y2="368.4" stroke="#000" stroke-width="0.5"/>
<line x1="292.0" y1="367.0" x2="290.5" y2="367.0" stroke="#000" stroke-width="0.5"/>
<line x1="292.0" y1="365.8" x2="290.5" y2="365.8" stroke="#000" stroke-width="0.5"/>
<line x1="292.0" y1="364.8" x2="290.5" y2="364.8" stroke="#000" stroke-width="0.5"/>
<line x1="292.0" y1="363.9" x2="290.5" y2="363.9" stroke="#000" stroke-width="0.5"/>
<line x1="292.7" y1="363.1" x2="290.5" y2="363.1" stroke="#000" stroke-width="0.8"/>
<line x1="292.0" y1="357.7" x2="290.5" y2="357.7" stroke="#000" stroke-width="0.5"/>
<line x1="292.0" y1="354.6" x2="290.5" y2="354.6" stroke="#000" stroke-width="0.5"/>
<line x1="292.0" y1="352.4" x2="290.5" y2="352.4" stroke="#000" stroke-width="0.5"/>
<line x1="292.0" y1="350.6" x2="290.5" y2="350.6" stroke="#000" stroke-width="0.5"/>
<line x1="292.0" y1="349.2" x2="290.5" y2="349.2" stroke="#000" stroke-width="0.5"/>
<line x1="292.0" y1="348.0" x2="290.5" y2="348.0" stroke="#000" stroke-width="0.5"/>
<line x1="292.0" y1="347.0" x2="290.5" y2="347.0" stroke="#000" stroke-width="0.5"/>
<line x1="292.0" y1="346.1" x2="290.5" y2="346.1" stroke="#000" stroke-width="0.5"/>
<line x1="293.7" y1="345.3" x2="290.5" y2="345.3" stroke="#000" stroke-width="1"/>
<text x="289.6" y="348.7" font-size="9.8" text-anchor="end">10<tspan font-size="6.8" dy="-4">2</tspan></text>
<line x1="292.0" y1="340.0" x2="290.5" y2="340.0" stroke="#000" stroke-width="0.5"/>
<line x1="292.0" y1="336.8" x2="290.5" y2="336.8" stroke="#000" stroke-width="0.5"/>
<line x1="292.0" y1="334.6" x2="290.5" y2="334.6" stroke="#000" stroke-width="0.5"/>
<line x1="292.0" y1="332.9" x2="290.5" y2="332.9" stroke="#000" stroke-width="0.5"/>
<line x1="292.0" y1="331.5" x2="290.5" y2="331.5" stroke="#000" stroke-width="0.5"/>
<line x1="292.0" y1="330.3" x2="290.5" y2="330.3" stroke="#000" stroke-width="0.5"/>
<line x1="292.0" y1="329.3" x2="290.5" y2="329.3" stroke="#000" stroke-width="0.5"/>
<line x1="292.0" y1="328.4" x2="290.5" y2="328.4" stroke="#000" stroke-width="0.5"/>
<line x1="292.7" y1="327.6" x2="290.5" y2="327.6" stroke="#000" stroke-width="0.8"/>
<line x1="292.0" y1="322.2" x2="290.5" y2="322.2" stroke="#000" stroke-width="0.5"/>
<line x1="292.0" y1="319.1" x2="290.5" y2="319.1" stroke="#000" stroke-width="0.5"/>
<line x1="292.0" y1="316.9" x2="290.5" y2="316.9" stroke="#000" stroke-width="0.5"/>
<line x1="292.0" y1="315.1" x2="290.5" y2="315.1" stroke="#000" stroke-width="0.5"/>
<line x1="292.0" y1="313.7" x2="290.5" y2="313.7" stroke="#000" stroke-width="0.5"/>
<line x1="292.0" y1="312.5" x2="290.5" y2="312.5" stroke="#000" stroke-width="0.5"/>
<line x1="292.0" y1="311.5" x2="290.5" y2="311.5" stroke="#000" stroke-width="0.5"/>
<line x1="292.0" y1="310.6" x2="290.5" y2="310.6" stroke="#000" stroke-width="0.5"/>
<line x1="293.7" y1="309.8" x2="290.5" y2="309.8" stroke="#000" stroke-width="1"/>
<text x="289.6" y="313.2" font-size="9.8" text-anchor="end">10<tspan font-size="6.8" dy="-4">4</tspan></text>
<line x1="292.0" y1="304.5" x2="290.5" y2="304.5" stroke="#000" stroke-width="0.5"/>
<line x1="292.0" y1="301.3" x2="290.5" y2="301.3" stroke="#000" stroke-width="0.5"/>
<line x1="292.0" y1="299.1" x2="290.5" y2="299.1" stroke="#000" stroke-width="0.5"/>
<line x1="292.0" y1="297.4" x2="290.5" y2="297.4" stroke="#000" stroke-width="0.5"/>
<line x1="292.0" y1="296.0" x2="290.5" y2="296.0" stroke="#000" stroke-width="0.5"/>
<line x1="292.0" y1="294.8" x2="290.5" y2="294.8" stroke="#000" stroke-width="0.5"/>
<line x1="292.0" y1="293.8" x2="290.5" y2="293.8" stroke="#000" stroke-width="0.5"/>
<line x1="292.0" y1="292.9" x2="290.5" y2="292.9" stroke="#000" stroke-width="0.5"/>
<line x1="292.7" y1="292.1" x2="290.5" y2="292.1" stroke="#000" stroke-width="0.8"/>
<line x1="292.0" y1="286.7" x2="290.5" y2="286.7" stroke="#000" stroke-width="0.5"/>
<line x1="292.0" y1="283.6" x2="290.5" y2="283.6" stroke="#000" stroke-width="0.5"/>
<line x1="292.0" y1="281.4" x2="290.5" y2="281.4" stroke="#000" stroke-width="0.5"/>
<line x1="292.0" y1="279.6" x2="290.5" y2="279.6" stroke="#000" stroke-width="0.5"/>
<line x1="292.0" y1="278.2" x2="290.5" y2="278.2" stroke="#000" stroke-width="0.5"/>
<line x1="292.0" y1="277.0" x2="290.5" y2="277.0" stroke="#000" stroke-width="0.5"/>
<line x1="292.0" y1="276.0" x2="290.5" y2="276.0" stroke="#000" stroke-width="0.5"/>
<line x1="292.0" y1="275.1" x2="290.5" y2="275.1" stroke="#000" stroke-width="0.5"/>
<line x1="293.7" y1="274.3" x2="290.5" y2="274.3" stroke="#000" stroke-width="1"/>
<text x="289.6" y="277.7" font-size="9.8" text-anchor="end">10<tspan font-size="6.8" dy="-4">6</tspan></text>
<line x1="292.0" y1="269.0" x2="290.5" y2="269.0" stroke="#000" stroke-width="0.5"/>
<line x1="292.0" y1="265.8" x2="290.5" y2="265.8" stroke="#000" stroke-width="0.5"/>
<line x1="292.0" y1="263.6" x2="290.5" y2="263.6" stroke="#000" stroke-width="0.5"/>
<line x1="292.0" y1="261.9" x2="290.5" y2="261.9" stroke="#000" stroke-width="0.5"/>
<line x1="292.0" y1="260.5" x2="290.5" y2="260.5" stroke="#000" stroke-width="0.5"/>
<line x1="292.0" y1="259.3" x2="290.5" y2="259.3" stroke="#000" stroke-width="0.5"/>
<line x1="292.0" y1="258.3" x2="290.5" y2="258.3" stroke="#000" stroke-width="0.5"/>
<line x1="292.0" y1="257.4" x2="290.5" y2="257.4" stroke="#000" stroke-width="0.5"/>
<line x1="292.7" y1="256.6" x2="290.5" y2="256.6" stroke="#000" stroke-width="0.8"/>
<line x1="292.0" y1="251.2" x2="290.5" y2="251.2" stroke="#000" stroke-width="0.5"/>
<line x1="292.0" y1="248.1" x2="290.5" y2="248.1" stroke="#000" stroke-width="0.5"/>
<line x1="292.0" y1="245.9" x2="290.5" y2="245.9" stroke="#000" stroke-width="0.5"/>
<line x1="292.0" y1="244.1" x2="290.5" y2="244.1" stroke="#000" stroke-width="0.5"/>
<line x1="292.0" y1="242.7" x2="290.5" y2="242.7" stroke="#000" stroke-width="0.5"/>
<line x1="292.0" y1="241.5" x2="290.5" y2="241.5" stroke="#000" stroke-width="0.5"/>
<line x1="292.0" y1="240.5" x2="290.5" y2="240.5" stroke="#000" stroke-width="0.5"/>
<line x1="292.0" y1="239.6" x2="290.5" y2="239.6" stroke="#000" stroke-width="0.5"/>
<line x1="293.7" y1="238.8" x2="290.5" y2="238.8" stroke="#000" stroke-width="1"/>
<text x="289.6" y="242.2" font-size="9.8" text-anchor="end">10<tspan font-size="6.8" dy="-4">8</tspan></text>
<line x1="290.5" y1="380.8" x2="290.5" y2="377.6" stroke="#000" stroke-width="1"/>
<text x="291.9" y="395.6" font-size="9.8" text-anchor="middle">10<tspan font-size="6.8" dy="-4">-6</tspan></text>
<line x1="303.8" y1="380.8" x2="303.8" y2="379.2" stroke="#000" stroke-width="0.5"/>
<line x1="311.5" y1="380.8" x2="311.5" y2="379.2" stroke="#000" stroke-width="0.5"/>
<line x1="317.0" y1="380.8" x2="317.0" y2="379.2" stroke="#000" stroke-width="0.5"/>
<line x1="321.3" y1="380.8" x2="321.3" y2="379.2" stroke="#000" stroke-width="0.5"/>
<line x1="324.8" y1="380.8" x2="324.8" y2="379.2" stroke="#000" stroke-width="0.5"/>
<line x1="327.7" y1="380.8" x2="327.7" y2="379.2" stroke="#000" stroke-width="0.5"/>
<line x1="330.3" y1="380.8" x2="330.3" y2="379.2" stroke="#000" stroke-width="0.5"/>
<line x1="332.5" y1="380.8" x2="332.5" y2="379.2" stroke="#000" stroke-width="0.5"/>
<line x1="334.5" y1="380.8" x2="334.5" y2="377.6" stroke="#000" stroke-width="1"/>
<text x="335.9" y="395.6" font-size="9.8" text-anchor="middle">10<tspan font-size="6.8" dy="-4">-5</tspan></text>
<line x1="347.8" y1="380.8" x2="347.8" y2="379.2" stroke="#000" stroke-width="0.5"/>
<line x1="355.5" y1="380.8" x2="355.5" y2="379.2" stroke="#000" stroke-width="0.5"/>
<line x1="361.0" y1="380.8" x2="361.0" y2="379.2" stroke="#000" stroke-width="0.5"/>
<line x1="365.3" y1="380.8" x2="365.3" y2="379.2" stroke="#000" stroke-width="0.5"/>
<line x1="368.8" y1="380.8" x2="368.8" y2="379.2" stroke="#000" stroke-width="0.5"/>
<line x1="371.7" y1="380.8" x2="371.7" y2="379.2" stroke="#000" stroke-width="0.5"/>
<line x1="374.3" y1="380.8" x2="374.3" y2="379.2" stroke="#000" stroke-width="0.5"/>
<line x1="376.5" y1="380.8" x2="376.5" y2="379.2" stroke="#000" stroke-width="0.5"/>
<line x1="378.6" y1="380.8" x2="378.6" y2="377.6" stroke="#000" stroke-width="1"/>
<text x="379.9" y="395.6" font-size="9.8" text-anchor="middle">10<tspan font-size="6.8" dy="-4">-4</tspan></text>
<line x1="391.8" y1="380.8" x2="391.8" y2="379.2" stroke="#000" stroke-width="0.5"/>
<line x1="399.6" y1="380.8" x2="399.6" y2="379.2" stroke="#000" stroke-width="0.5"/>
<line x1="405.1" y1="380.8" x2="405.1" y2="379.2" stroke="#000" stroke-width="0.5"/>
<line x1="409.3" y1="380.8" x2="409.3" y2="379.2" stroke="#000" stroke-width="0.5"/>
<line x1="412.8" y1="380.8" x2="412.8" y2="379.2" stroke="#000" stroke-width="0.5"/>
<line x1="415.8" y1="380.8" x2="415.8" y2="379.2" stroke="#000" stroke-width="0.5"/>
<line x1="418.3" y1="380.8" x2="418.3" y2="379.2" stroke="#000" stroke-width="0.5"/>
<line x1="420.6" y1="380.8" x2="420.6" y2="379.2" stroke="#000" stroke-width="0.5"/>
<line x1="422.6" y1="380.8" x2="422.6" y2="377.6" stroke="#000" stroke-width="1"/>
<text x="424.0" y="395.6" font-size="9.8" text-anchor="middle">10<tspan font-size="6.8" dy="-4">-3</tspan></text>
<line x1="435.8" y1="380.8" x2="435.8" y2="379.2" stroke="#000" stroke-width="0.5"/>
<line x1="443.6" y1="380.8" x2="443.6" y2="379.2" stroke="#000" stroke-width="0.5"/>
<line x1="449.1" y1="380.8" x2="449.1" y2="379.2" stroke="#000" stroke-width="0.5"/>
<line x1="453.3" y1="380.8" x2="453.3" y2="379.2" stroke="#000" stroke-width="0.5"/>
<line x1="456.8" y1="380.8" x2="456.8" y2="379.2" stroke="#000" stroke-width="0.5"/>
<line x1="459.8" y1="380.8" x2="459.8" y2="379.2" stroke="#000" stroke-width="0.5"/>
<line x1="462.3" y1="380.8" x2="462.3" y2="379.2" stroke="#000" stroke-width="0.5"/>
<line x1="464.6" y1="380.8" x2="464.6" y2="379.2" stroke="#000" stroke-width="0.5"/>
<line x1="466.6" y1="380.8" x2="466.6" y2="377.6" stroke="#000" stroke-width="1"/>
<text x="468.0" y="395.6" font-size="9.8" text-anchor="middle">10<tspan font-size="6.8" dy="-4">-2</tspan></text>
<text x="378.8" y="417.2" font-size="14.75" text-anchor="middle">Power density (W/cm<tspan font-size="9.5" dy="-6">2</tspan><tspan dy="6">)</tspan></text>
<text transform="translate(264.6,309.2) rotate(-90)" font-size="14.6" text-anchor="middle">Responsivity (A/W)</text>
<text x="353.3" y="247" font-size="8.45">λ = 473 nm</text>
<line x1="353" y1="255.2" x2="383" y2="255.2" stroke="#dc4a48" stroke-width="1.1" stroke-dasharray="6.5 4.5"/>
<text x="384.5" y="258.2" font-size="8.5" style="fill:#dc4a48">Vertical NPC@1.5 V</text>
<line x1="353" y1="266" x2="383" y2="266" stroke="#2f74cf" stroke-width="1.1" stroke-dasharray="6.5 4.5"/>
<text x="384.5" y="269" font-size="8.5" style="fill:#2f74cf">Vertical PPC@1.0 V</text>
<line x1="353" y1="276.5" x2="383" y2="276.5" stroke="#2f9e5c" stroke-width="1.1" stroke-dasharray="6.5 4.5"/>
<text x="384.5" y="279.5" font-size="8.5" style="fill:#2f9e5c">Parallel PPC@2.0 V</text>
</g><g id="band">
<g filter="url(#shadow)" opacity="0.6">
<polygon points="538.5,291 566,280 566,367 538.5,381" fill="#6a6a6a"/>
<polygon points="570,266 619,242 619,330 570,352" fill="#8a8a8a"/>
<polygon points="624,250 652,238 652,324 624,338" fill="#6a6a6a"/>
</g>
<line x1="524" y1="394" x2="524" y2="268" stroke="#444" stroke-width="0.9"/>
<polygon points="524,264.5 522,270.5 526,270.5" fill="#222"/>
<line x1="524" y1="283.8" x2="527.5" y2="282.3" stroke="#555" stroke-width="0.9"/>
<text transform="translate(521.3,288.8) rotate(-27)" font-size="6.8" text-anchor="end">-4.0 eV</text>
<line x1="524" y1="311.8" x2="527.5" y2="310.3" stroke="#555" stroke-width="0.9"/>
<text transform="translate(521.3,316.8) rotate(-27)" font-size="6.8" text-anchor="end">-4.5 eV</text>
<line x1="524" y1="339.5" x2="527.5" y2="338.0" stroke="#555" stroke-width="0.9"/>
<text transform="translate(521.3,344.5) rotate(-27)" font-size="6.8" text-anchor="end">-5.0 eV</text>
<line x1="524" y1="368.2" x2="527.5" y2="366.7" stroke="#555" stroke-width="0.9"/>
<text transform="translate(521.3,373.2) rotate(-27)" font-size="6.8" text-anchor="end">-5.5 eV</text>
<line x1="524.8" y1="284.6" x2="574.4" y2="262.1" stroke="#444" stroke-width="0.8" stroke-dasharray="4 2.5"/>
<line x1="524" y1="359" x2="627" y2="311.5" stroke="#444" stroke-width="0.8" stroke-dasharray="4 2.5"/>
<line x1="524" y1="368.8" x2="574" y2="346" stroke="#444" stroke-width="0.8" stroke-dasharray="4 2.5"/>
<polygon points="543,288.4 569.8,276 569.8,359.1 543,372.4" fill="#2b4a70"/>
<line x1="543" y1="350.2" x2="569.8" y2="337.9" stroke="#9fb0c4" stroke-width="0.8" stroke-dasharray="4 2.5" stroke-dashoffset="1.4"/>
<line x1="543" y1="360.1" x2="569.8" y2="347.9" stroke="#9fb0c4" stroke-width="0.8" stroke-dasharray="4 2.5" stroke-dashoffset="1.4"/>
<polygon points="575,262 623.3,238.4 623.3,321.6 574,342.5" fill="#f8c334"/>
<polygon points="628.4,246.8 655.7,234 655.7,316.6 629,328.5" fill="#2b4a70"/>
<line x1="570" y1="337.5" x2="627" y2="311.5" stroke="#444" stroke-width="0.8" stroke-dasharray="4 2.5"/>
<polyline points="570,251.5 628.6,223.9 628.6,234.6 656.3,222.1" fill="none" stroke="#555" stroke-width="0.9"/>
<polygon points="567.5,252.7 573.3,247.6 574.6,251.4" fill="#333"/>
<polyline points="627.1,330.6 575.7,355.5 575.7,366.2 544.4,384 " fill="none" stroke="#555" stroke-width="0.9"/>
<line x1="627.1" y1="322" x2="627.1" y2="330.6" stroke="#999" stroke-width="0.8"/>
<line x1="598.3" y1="249" x2="595" y2="278" stroke="#3f78c4" stroke-width="0.9" stroke-dasharray="3 2" fill="none"/>
<line x1="607.4" y1="246.5" x2="603.8" y2="275" stroke="#3f78c4" stroke-width="0.9" stroke-dasharray="3 2" fill="none"/>
<line x1="621.5" y1="243" x2="621.5" y2="321" stroke="#3f78c4" stroke-width="0.9" stroke-dasharray="3 2" fill="none"/>
<line x1="597.4" y1="312" x2="597.4" y2="338" stroke="#3f78c4" stroke-width="0.9" stroke-dasharray="3 2" fill="none"/>
<line x1="604.8" y1="308" x2="604.8" y2="335" stroke="#3f78c4" stroke-width="0.9" stroke-dasharray="3 2" fill="none"/>
<line x1="591.3" y1="330" x2="591.3" y2="339" stroke="#3f78c4" stroke-width="0.9" stroke-dasharray="3 2" fill="none"/>
<polygon points="621.5,241.5 619.9,244.7 623.1,244.7" fill="#3f78c4"/>
<polygon points="594.8,281.5 593.1999999999999,278.3 596.4,278.3" fill="#3f78c4"/>
<polygon points="603.6,278.3 602.0,275.1 605.2,275.1" fill="#3f78c4"/>
<polygon points="597.4,310.5 595.8,313.7 599.0,313.7" fill="#3f78c4"/>
<polygon points="604.8,306.5 603.1999999999999,309.7 606.4,309.7" fill="#3f78c4"/>
<polygon points="591.2,287.8 609.9,279.8 609.9,303.9 591.2,311.9" stroke="#3f78c4" stroke-width="0.9" stroke-dasharray="3 2" fill="none"/>
<text transform="translate(576.8,307.8) rotate(-20)" font-size="9.5" style="fill:#4a82cc">RC</text>
<polygon transform="translate(587.4,259.1)" points="0,0 4.1,-1.6 7.1,4.4 8.6,3.7 11,12.2 5.6,7.1 4.2,7.9" fill="#93d353" stroke="#5d9a34" stroke-width="0.5"/>
<polygon transform="translate(599,253.3)" points="0,0 4.1,-1.6 7.1,4.4 8.6,3.7 11,12.2 5.6,7.1 4.2,7.9" fill="#93d353" stroke="#5d9a34" stroke-width="0.5"/>
<text transform="translate(578.2,277.2) rotate(-30)" font-size="8">hv</text>
<text transform="translate(579,241.9) rotate(-23.5)" font-size="7.6">AgBiP<tspan font-size="4.8" dy="1.6">2</tspan><tspan dy="-1.6">Se</tspan><tspan font-size="4.8" dy="1.6">6</tspan></text>
<text x="577.5" y="340.5" font-size="7">E<tspan font-size="5" dy="1.4">f</tspan></text>
<circle cx="597.6" cy="244.4" r="4" fill="#fff" stroke="#2a2a2a" stroke-width="0.95" stroke-dasharray="1.9 0.8"/>
<circle cx="605.2" cy="241.2" r="4" fill="#fff" stroke="#2a2a2a" stroke-width="0.95" stroke-dasharray="1.9 0.8"/>
<circle cx="612.6" cy="237.3" r="3.6" fill="url(#gE)" stroke="#5a3a2a" stroke-width="0.5"/><line x1="610.8000000000001" y1="237.3" x2="614.4" y2="237.3" stroke="#401a10" stroke-width="0.8"/>
<circle cx="620.6" cy="233.7" r="3.6" fill="url(#gE)" stroke="#5a3a2a" stroke-width="0.5"/><line x1="618.8000000000001" y1="233.7" x2="622.4" y2="233.7" stroke="#401a10" stroke-width="0.8"/>
<circle cx="629.5" cy="240" r="3.6" fill="url(#gE)" stroke="#5a3a2a" stroke-width="0.5"/><line x1="627.7" y1="240" x2="631.3" y2="240" stroke="#401a10" stroke-width="0.8"/>
<circle cx="637.1" cy="236.7" r="3.6" fill="url(#gE)" stroke="#5a3a2a" stroke-width="0.5"/><line x1="635.3000000000001" y1="236.7" x2="638.9" y2="236.7" stroke="#401a10" stroke-width="0.8"/>
<circle cx="644.7" cy="233.3" r="3.6" fill="url(#gE)" stroke="#5a3a2a" stroke-width="0.5"/><line x1="642.9000000000001" y1="233.3" x2="646.5" y2="233.3" stroke="#401a10" stroke-width="0.8"/>
<circle cx="652.4" cy="229.8" r="3.6" fill="url(#gE)" stroke="#5a3a2a" stroke-width="0.5"/><line x1="650.6" y1="229.8" x2="654.1999999999999" y2="229.8" stroke="#401a10" stroke-width="0.8"/>
<circle cx="595.7" cy="292.3" r="3.6" fill="url(#gE)" stroke="#5a3a2a" stroke-width="0.5"/><line x1="593.9000000000001" y1="292.3" x2="597.5" y2="292.3" stroke="#401a10" stroke-width="0.8"/>
<circle cx="603.7" cy="287.8" r="3.6" fill="url(#gE)" stroke="#5a3a2a" stroke-width="0.5"/><line x1="601.9000000000001" y1="287.8" x2="605.5" y2="287.8" stroke="#401a10" stroke-width="0.8"/>
<circle cx="595.7" cy="302.1" r="3.4" fill="url(#gH)" stroke="#3a1010" stroke-width="0.7"/><circle cx="595.7" cy="302.1" r="0.8" fill="#f0b8b8"/>
<circle cx="603.7" cy="297.6" r="3.4" fill="url(#gH)" stroke="#3a1010" stroke-width="0.7"/><circle cx="603.7" cy="297.6" r="0.8" fill="#f0b8b8"/>
<circle cx="575.9" cy="349.7" r="3.4" fill="url(#gH)" stroke="#3a1010" stroke-width="0.7"/><circle cx="575.9" cy="349.7" r="0.8" fill="#f0b8b8"/>
<circle cx="583.8" cy="345.8" r="3.4" fill="url(#gH)" stroke="#3a1010" stroke-width="0.7"/><circle cx="583.8" cy="345.8" r="0.8" fill="#f0b8b8"/>
<circle cx="591.5" cy="342.1" r="3.6" fill="#fff" stroke="#2a2a2a" stroke-width="0.95" stroke-dasharray="1.9 0.8"/>
<circle cx="599.4" cy="338.3" r="3.6" fill="#fff" stroke="#2a2a2a" stroke-width="0.95" stroke-dasharray="1.9 0.8"/>
<circle cx="546.4" cy="375.6" r="3.4" fill="url(#gH)" stroke="#3a1010" stroke-width="0.7"/><circle cx="546.4" cy="375.6" r="0.8" fill="#f0b8b8"/>
<circle cx="554" cy="371.8" r="3.4" fill="url(#gH)" stroke="#3a1010" stroke-width="0.7"/><circle cx="554" cy="371.8" r="0.8" fill="#f0b8b8"/>
<circle cx="561.7" cy="368.1" r="3.4" fill="url(#gH)" stroke="#3a1010" stroke-width="0.7"/><circle cx="561.7" cy="368.1" r="0.8" fill="#f0b8b8"/>
<circle cx="569.3" cy="364.3" r="3.4" fill="url(#gH)" stroke="#3a1010" stroke-width="0.7"/><circle cx="569.3" cy="364.3" r="0.8" fill="#f0b8b8"/>
<text transform="translate(550.3,305) rotate(90) scale(0.89,1)" font-size="12.5" style="fill:#fff">Source</text>
<text transform="translate(637.2,267) rotate(90) scale(0.9,1)" font-size="12.5" style="fill:#fff">Drain</text>
</g>
</svg></body></html>
